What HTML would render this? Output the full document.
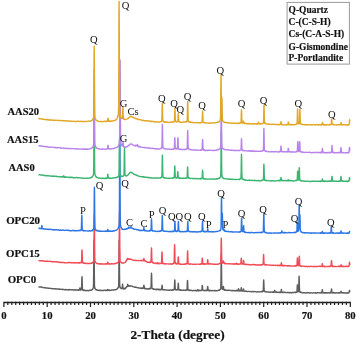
<!DOCTYPE html>
<html><head><meta charset="utf-8"><style>
html,body{margin:0;padding:0;background:#fff;width:357px;height:344px;overflow:hidden}
svg{display:block;will-change:transform}
text{font-family:"Liberation Serif",serif;fill:#111}
.b{stroke:#111;stroke-width:0.18px}
</style></head><body>
<svg width="357" height="344" viewBox="0 0 357 344" font-family="Liberation Serif, serif">
<rect width="357" height="344" fill="#fff"/>
<path d="M38.50,286.82 39.20,286.96 39.90,286.94 40.60,286.97 41.30,286.97 42.00,287.38 42.70,287.41 43.40,287.65 44.10,287.58 44.80,287.85 45.50,287.73 46.20,288.05 46.90,288.10 47.60,288.05 48.30,288.18 49.00,288.32 49.70,288.18 50.40,288.41 51.10,288.59 51.80,288.42 52.50,288.72 53.20,288.73 53.90,288.86 54.60,288.70 55.30,288.65 56.00,289.02 56.70,289.08 57.40,288.98 58.10,288.88 58.80,288.97 59.50,289.22 60.20,289.12 60.90,289.46 61.60,289.34 62.30,289.22 63.00,289.47 63.70,289.38 64.40,289.67 65.10,289.71 65.80,289.57 66.50,289.67 67.20,289.73 67.90,289.81 68.60,289.92 69.30,289.53 70.00,289.71 70.70,289.84 71.40,289.74 72.10,289.89 72.80,289.70 73.50,290.08 74.20,289.95 74.90,289.80 75.60,290.06 76.30,289.93 77.00,289.90 77.60,290.05 77.70,289.90 77.75,289.93 77.90,290.22 78.05,290.15 78.20,289.84 78.35,290.18 78.40,289.84 78.50,289.98 78.65,290.23 78.80,290.10 78.95,289.95 79.10,289.97 79.25,289.96 79.40,289.81 79.55,290.06 79.60,289.54 79.70,289.31 79.75,289.16 79.80,288.67 79.85,288.58 79.90,287.95 80.00,287.98 80.05,288.01 80.15,288.41 80.20,288.85 80.30,289.27 80.35,289.65 80.45,289.89 80.50,289.82 80.60,289.84 80.65,289.95 80.75,289.81 80.80,289.66 80.90,289.93 80.95,289.71 81.05,289.77 81.10,289.89 81.20,289.57 81.25,289.48 81.35,289.45 81.40,289.58 81.50,289.13 81.55,288.71 81.65,287.25 81.70,286.15 81.80,282.22 81.85,280.28 81.90,278.72 81.95,277.38 82.00,276.79 82.10,278.56 82.15,280.34 82.25,284.18 82.30,285.97 82.40,288.20 82.45,289.04 82.60,289.59 82.75,289.92 82.90,290.16 83.05,290.22 83.20,290.05 83.30,290.19 83.35,290.09 83.50,290.18 83.65,290.26 83.80,290.44 83.95,290.54 84.00,290.26 84.10,290.16 84.25,290.39 84.40,290.24 84.70,290.27 85.40,290.66 86.10,290.40 86.80,290.67 87.50,290.50 88.20,290.72 88.90,290.63 89.60,290.21 90.30,290.15 91.00,290.30 91.60,289.91 91.70,289.78 91.75,289.91 91.90,289.83 92.05,289.59 92.20,289.47 92.35,289.18 92.40,289.24 92.50,289.05 92.65,289.10 92.80,288.90 92.95,288.47 93.10,288.41 93.25,287.84 93.40,287.18 93.55,284.65 93.70,273.88 93.80,260.50 93.85,252.87 94.00,240.06 94.15,252.64 94.30,274.04 94.45,284.39 94.50,286.05 94.60,287.52 94.75,288.17 94.90,288.50 95.05,288.57 95.20,288.89 95.35,289.12 95.50,289.00 95.65,289.49 95.80,289.60 95.90,289.47 95.95,289.65 96.10,289.60 96.25,289.61 96.40,289.88 96.60,289.68 97.30,290.22 98.00,290.43 98.70,290.21 99.40,290.54 100.10,290.20 100.80,290.56 101.50,290.32 102.20,290.62 102.90,290.39 103.60,290.60 104.30,290.20 105.00,290.21 105.40,290.52 105.55,290.44 105.70,290.39 105.85,290.17 106.00,290.22 106.15,290.31 106.30,290.16 106.40,290.57 106.45,290.47 106.60,290.54 106.75,290.43 106.90,290.26 107.05,290.14 107.10,290.42 107.20,290.14 107.35,290.29 107.50,290.12 107.65,289.86 107.80,289.51 107.95,289.67 108.10,290.12 108.25,290.04 108.40,290.29 108.50,290.12 108.55,290.18 108.70,290.12 108.85,290.30 109.00,290.22 109.15,290.15 109.20,290.14 109.30,290.29 109.45,290.44 109.60,290.22 109.75,290.10 109.90,290.16 110.05,290.12 110.20,290.26 110.60,290.34 111.30,290.20 112.00,289.99 112.70,289.99 113.40,289.94 114.10,289.87 114.80,289.72 115.50,289.81 116.20,289.37 116.80,289.12 116.90,289.09 116.95,289.02 117.10,288.99 117.25,288.69 117.40,288.69 117.55,288.69 117.60,288.28 117.70,288.38 117.85,288.09 118.00,287.75 118.15,287.51 118.30,287.55 118.45,286.91 118.60,286.51 118.75,283.52 118.90,273.15 119.00,259.69 119.05,252.55 119.20,240.06 119.35,252.37 119.50,273.16 119.65,283.77 119.70,284.88 119.80,286.26 119.95,286.99 120.10,287.36 120.20,287.22 120.25,287.51 120.35,287.41 120.40,287.47 120.50,287.96 120.55,287.61 120.65,288.08 120.70,288.05 120.80,288.10 120.85,288.16 120.95,288.20 121.00,288.07 121.10,288.19 121.15,288.11 121.25,288.45 121.30,288.44 121.40,288.48 121.45,288.25 121.55,288.44 121.60,288.31 121.70,288.57 121.80,288.57 121.85,288.68 122.00,288.54 122.15,288.33 122.30,287.48 122.45,285.38 122.50,285.04 122.60,284.27 122.75,285.55 122.90,287.28 123.05,288.58 123.20,288.42 123.35,288.87 123.50,288.91 123.65,288.71 123.80,288.90 123.90,288.56 123.95,288.60 124.10,288.55 124.25,288.57 124.40,288.53 124.55,288.89 124.60,288.56 124.70,288.77 124.85,288.61 125.00,288.53 125.30,288.48 125.45,288.21 125.60,288.37 125.75,287.89 125.90,287.75 126.00,287.59 126.05,287.54 126.20,287.27 126.35,287.00 126.50,286.79 126.65,287.00 126.70,286.66 126.80,286.69 126.95,286.73 127.10,286.50 127.25,286.47 127.40,285.94 127.55,284.99 127.70,284.30 127.85,284.91 128.00,285.57 128.10,286.02 128.15,285.95 128.30,286.10 128.45,286.15 128.60,286.00 128.75,286.15 128.80,286.18 128.90,285.84 129.05,286.17 129.20,286.14 129.35,286.13 129.50,285.90 129.65,285.86 129.80,285.81 129.95,285.92 130.10,286.14 130.20,285.93 130.90,285.85 131.60,286.12 132.30,286.21 133.00,286.65 133.70,286.93 134.40,287.19 135.10,286.98 135.80,287.25 136.50,287.27 137.20,287.75 137.90,287.85 138.60,287.83 139.30,288.13 140.00,288.03 140.70,288.23 141.40,288.18 141.50,288.13 141.65,288.42 141.80,288.37 141.95,288.27 142.10,288.40 142.25,288.32 142.40,288.39 142.55,288.07 142.70,288.11 142.80,288.10 142.85,288.32 143.00,288.37 143.15,288.11 143.30,288.24 143.45,287.89 143.50,287.99 143.60,287.46 143.75,285.72 143.90,285.25 144.05,286.01 144.20,287.24 144.35,288.09 144.50,288.20 144.65,288.51 144.80,288.64 144.90,288.33 144.95,288.34 145.10,288.57 145.25,288.70 145.40,288.67 145.55,288.57 145.60,288.42 145.70,288.65 145.85,288.60 146.00,288.78 146.15,288.69 146.30,288.78 147.00,288.94 147.70,288.83 148.40,288.97 149.10,288.67 149.25,288.54 149.40,288.91 149.55,288.52 149.70,288.92 149.80,288.66 149.85,288.48 150.00,288.54 150.15,288.70 150.30,288.50 150.45,288.55 150.50,288.30 150.60,288.57 150.75,288.27 150.90,288.28 151.05,287.11 151.20,283.96 151.35,277.21 151.50,273.12 151.65,277.03 151.80,283.95 151.90,286.75 151.95,287.16 152.10,288.19 152.25,288.22 152.40,288.77 152.55,288.85 152.60,288.75 152.70,288.72 152.85,288.61 153.00,288.69 153.15,289.00 153.30,289.09 153.45,289.22 153.60,289.21 153.75,289.06 153.90,289.01 154.00,289.16 154.70,289.20 155.40,289.37 155.50,289.53 155.65,289.36 155.80,289.61 155.95,289.51 156.10,289.23 156.25,289.55 156.40,289.52 156.55,289.52 156.70,289.26 156.80,289.65 156.85,289.48 157.00,289.51 157.15,289.36 157.30,289.31 157.45,289.29 157.50,289.36 157.60,289.34 157.75,289.13 157.90,289.00 158.05,289.40 158.20,289.56 158.35,289.73 158.50,289.47 158.65,289.70 158.80,289.66 158.90,289.44 158.95,289.79 159.10,289.57 159.25,289.50 159.40,289.51 159.55,289.84 159.60,289.53 159.70,289.61 159.85,289.68 160.00,289.60 160.15,289.73 160.30,289.48 160.45,289.63 160.60,289.70 160.75,289.71 160.90,289.70 161.00,289.54 161.05,289.70 161.20,289.83 161.35,289.59 161.50,289.61 161.65,289.45 161.70,288.99 161.80,288.23 161.95,286.62 162.10,285.16 162.25,286.40 162.40,288.31 162.55,289.57 162.70,289.64 162.85,289.86 163.00,289.57 163.10,289.65 163.15,289.82 163.30,289.70 163.45,289.88 163.60,289.83 163.75,289.66 163.80,289.68 163.90,289.84 164.05,289.90 164.20,289.76 164.35,289.81 164.50,289.71 165.20,289.87 165.90,289.93 166.60,289.99 167.30,290.10 168.00,290.23 168.70,290.18 169.40,290.19 170.10,289.99 170.80,290.08 171.50,290.16 172.20,290.20 172.40,289.89 172.55,289.78 172.70,289.78 172.85,289.96 172.90,290.11 173.00,289.78 173.15,290.04 173.30,289.94 173.45,290.01 173.60,289.99 173.75,289.60 173.90,289.84 174.05,289.49 174.20,289.35 174.30,289.20 174.35,288.95 174.50,286.62 174.65,282.48 174.80,279.86 174.95,282.42 175.00,283.91 175.10,286.59 175.25,288.82 175.40,289.42 175.55,289.58 175.70,289.77 175.85,289.77 175.90,289.73 176.00,289.68 176.05,289.82 176.15,289.65 176.20,289.66 176.30,289.64 176.35,289.89 176.40,289.66 176.45,289.71 176.50,289.77 176.60,289.87 176.65,289.91 176.75,289.88 176.80,289.89 176.90,289.71 176.95,290.02 177.05,289.94 177.10,289.80 177.20,289.78 177.25,289.86 177.40,289.63 177.55,289.83 177.70,289.87 177.80,289.46 177.85,289.33 178.00,287.77 178.15,285.19 178.30,283.22 178.45,284.97 178.50,286.15 178.60,287.86 178.75,289.56 178.90,289.72 179.05,289.90 179.20,289.82 179.35,289.99 179.50,289.98 179.65,289.84 179.80,290.22 179.90,289.91 179.95,290.10 180.10,290.17 180.25,290.10 180.40,290.05 180.55,290.12 180.60,290.37 180.70,289.94 181.30,290.37 182.00,290.28 182.70,290.25 183.40,290.33 184.10,290.33 184.80,290.39 185.10,290.44 185.25,290.23 185.40,290.15 185.50,290.14 185.55,290.38 185.70,290.17 185.85,289.97 186.00,290.18 186.15,289.94 186.20,290.04 186.30,290.15 186.45,290.09 186.60,290.01 186.75,290.08 186.90,289.86 187.05,289.48 187.20,287.30 187.35,282.89 187.50,280.59 187.60,281.63 187.65,283.20 187.80,287.24 187.95,289.27 188.10,289.71 188.25,290.14 188.30,289.95 188.40,289.85 188.55,290.25 188.70,289.95 188.85,290.01 189.00,290.04 189.15,290.35 189.30,290.34 189.45,290.33 189.60,290.55 189.70,290.36 189.75,290.26 189.90,290.62 190.40,290.29 191.10,290.32 191.80,290.43 192.50,290.79 193.20,290.57 193.90,290.56 194.60,290.57 195.30,290.56 195.40,290.73 195.55,290.68 195.70,290.52 195.85,290.48 196.00,290.75 196.15,290.63 196.30,290.61 196.45,290.47 196.60,290.81 196.70,290.60 196.75,290.77 196.90,290.66 197.05,290.64 197.20,290.35 197.35,290.68 197.40,290.60 197.50,290.08 197.65,289.62 197.80,289.60 197.95,289.88 198.10,290.12 198.25,290.70 198.40,290.37 198.55,290.59 198.70,290.55 198.80,290.49 198.85,290.64 199.00,290.54 199.15,290.68 199.30,290.68 199.45,290.34 199.50,290.48 199.60,290.58 199.75,290.46 199.90,290.59 200.05,290.33 200.20,290.36 200.35,290.53 200.50,290.39 200.65,290.37 200.80,290.45 200.90,290.52 200.95,290.54 201.10,290.49 201.25,290.43 201.40,290.37 201.55,290.53 201.60,290.51 201.70,290.47 201.85,290.20 202.00,288.97 202.15,286.55 202.30,285.43 202.45,286.59 202.60,288.80 202.75,289.96 202.90,290.09 203.00,290.32 203.05,290.22 203.20,290.27 203.35,290.39 203.50,290.55 203.65,290.52 203.70,290.38 203.80,290.57 203.95,290.44 204.10,290.43 204.25,290.46 204.40,290.42 204.55,290.37 204.70,290.73 205.10,290.57 205.30,290.59 205.45,290.57 205.60,290.52 205.75,290.57 205.80,290.30 205.90,290.32 206.05,290.52 206.20,290.48 206.35,290.27 206.50,290.34 206.65,290.36 206.80,290.63 206.95,290.55 207.10,290.15 207.20,290.19 207.25,290.05 207.40,289.05 207.55,287.33 207.70,286.55 207.85,287.61 207.90,287.96 208.00,289.34 208.15,289.96 208.30,290.41 208.45,290.23 208.60,290.50 208.75,290.50 208.90,290.70 209.05,290.53 209.20,290.69 209.30,290.40 209.35,290.58 209.50,290.40 209.65,290.35 209.80,290.76 209.95,290.35 210.00,290.49 210.10,290.48 210.70,290.45 211.40,290.75 212.10,290.70 212.80,290.55 213.50,290.64 214.20,290.78 214.90,290.45 215.60,290.72 216.30,290.80 217.00,290.66 217.70,290.55 218.40,290.29 218.90,290.09 219.05,290.03 219.10,290.09 219.20,290.01 219.35,290.15 219.50,289.78 219.65,289.67 219.80,289.85 219.95,289.57 220.10,289.27 220.25,289.41 220.40,288.86 220.50,288.85 220.55,288.77 220.70,288.34 220.85,286.25 221.00,279.02 221.15,264.01 221.20,259.23 221.30,254.98 221.45,263.88 221.60,278.77 221.75,286.28 221.90,288.04 222.05,288.75 222.20,288.62 222.35,289.15 222.50,289.05 222.60,289.16 222.65,289.01 222.80,289.25 222.95,289.09 223.10,288.64 223.25,287.47 223.30,286.83 223.40,286.48 223.55,287.67 223.70,288.68 223.85,289.58 224.00,289.80 224.15,289.90 224.30,289.61 224.45,289.93 224.60,290.05 224.70,289.72 224.75,289.72 224.90,290.14 225.05,290.08 225.20,290.12 225.35,290.17 225.40,290.11 225.50,289.94 225.65,289.94 225.80,289.90 226.10,290.22 226.80,290.29 227.50,290.48 228.20,290.20 228.90,290.19 229.60,290.33 230.30,290.62 231.00,290.34 231.70,290.66 232.40,290.58 233.10,290.67 233.80,290.41 234.50,290.74 235.20,290.59 235.90,290.76 236.10,290.46 236.25,290.57 236.40,290.69 236.55,290.57 236.60,290.68 236.70,290.49 236.85,290.56 237.00,290.73 237.15,290.59 237.30,290.88 237.45,290.61 237.60,290.58 237.75,290.61 237.90,290.69 238.00,290.50 238.05,290.73 238.20,289.93 238.35,289.20 238.50,288.78 238.65,289.07 238.70,289.38 238.80,290.09 238.90,290.61 238.95,290.71 239.05,290.81 239.10,290.77 239.20,290.52 239.25,290.89 239.35,290.57 239.40,290.51 239.50,290.74 239.55,290.53 239.65,290.55 239.70,290.61 239.80,290.97 239.85,290.66 239.95,290.92 240.00,290.96 240.10,290.64 240.15,290.59 240.25,290.64 240.30,290.83 240.40,290.85 240.45,290.68 240.55,290.88 240.60,290.56 240.70,290.52 240.75,290.64 240.80,290.72 240.85,290.72 240.90,290.62 241.00,290.09 241.10,289.27 241.15,288.65 241.25,287.88 241.30,287.61 241.40,288.23 241.45,288.80 241.50,289.22 241.55,289.54 241.60,290.01 241.70,290.59 241.75,290.84 241.85,290.86 241.90,290.84 242.00,291.04 242.05,291.06 242.15,290.65 242.20,291.08 242.30,290.80 242.35,290.68 242.45,290.82 242.50,290.75 242.60,290.70 242.65,291.06 242.75,290.87 242.80,290.76 242.90,291.02 242.95,290.78 243.05,290.76 243.10,290.69 243.20,290.32 243.25,290.24 243.35,289.39 243.40,289.39 243.50,288.99 243.55,289.05 243.60,289.20 243.65,289.75 243.70,289.77 243.80,290.43 243.95,290.82 244.10,290.89 244.25,290.89 244.30,291.19 244.40,291.26 244.55,291.07 244.70,291.15 244.85,291.33 245.00,291.02 245.15,291.13 245.30,291.35 245.45,291.15 245.60,291.17 245.70,291.30 245.75,291.19 245.90,291.16 246.40,291.16 247.10,291.62 247.80,291.59 248.50,291.38 249.20,291.36 249.90,291.57 250.60,291.60 251.30,291.80 252.00,291.58 252.70,291.49 253.40,291.83 254.10,291.54 254.80,291.60 255.50,291.60 256.20,291.90 256.90,291.96 257.60,291.71 258.30,291.83 259.00,291.86 259.70,291.74 260.40,291.88 261.10,291.63 261.30,291.79 261.45,291.53 261.60,291.50 261.75,291.49 261.80,291.49 261.90,291.82 262.05,291.48 262.20,291.63 262.35,291.31 262.50,291.64 262.65,291.54 262.80,291.45 262.95,291.51 263.10,290.94 263.20,290.95 263.25,290.34 263.40,288.21 263.55,282.87 263.70,280.00 263.85,283.11 263.90,284.83 264.00,288.15 264.15,290.33 264.30,291.35 264.45,291.12 264.60,291.61 264.75,291.60 264.90,291.32 265.05,291.39 265.20,291.45 265.30,291.47 265.35,291.51 265.50,291.57 265.65,291.73 265.80,291.74 265.95,291.66 266.00,291.99 266.10,291.83 266.70,291.87 267.40,292.06 268.10,292.01 268.80,292.16 269.50,292.17 270.20,291.98 270.90,292.23 271.60,292.14 272.20,291.89 272.30,292.02 272.35,292.18 272.50,292.19 272.65,292.19 272.80,292.22 272.95,292.20 273.00,292.28 273.10,292.00 273.25,292.28 273.40,292.27 273.55,292.24 273.70,291.98 273.85,292.14 274.00,292.23 274.15,292.15 274.30,291.55 274.40,291.07 274.45,291.07 274.60,290.48 274.75,291.07 274.90,291.53 275.05,291.86 275.10,292.23 275.20,292.16 275.35,291.94 275.50,292.16 275.65,292.07 275.80,292.15 275.95,292.29 276.10,292.36 276.25,291.99 276.40,291.99 276.50,292.39 276.55,292.05 276.70,292.36 276.85,292.28 277.00,292.27 277.20,292.30 277.90,292.22 278.60,292.42 279.00,292.48 279.15,292.18 279.30,292.16 279.45,292.24 279.60,292.22 279.75,292.29 279.90,292.46 280.00,292.19 280.05,292.45 280.20,292.16 280.35,292.19 280.50,292.35 280.65,292.31 280.70,292.40 280.80,292.25 280.95,291.96 281.10,291.62 281.25,290.25 281.40,289.46 281.55,290.29 281.70,291.71 281.85,291.86 282.00,292.39 282.10,292.34 282.15,292.34 282.30,292.34 282.45,292.17 282.60,292.31 282.75,292.55 282.80,292.49 282.90,292.31 283.05,292.33 283.20,292.34 283.35,292.32 283.50,292.33 283.65,292.27 283.80,292.59 284.20,292.21 284.90,292.29 285.60,292.51 286.30,292.63 287.00,292.58 287.70,292.35 288.40,292.52 289.10,292.75 289.80,292.71 290.50,292.44 291.20,292.77 291.90,292.78 292.60,292.41 293.30,292.71 294.00,292.40 294.70,292.29 295.00,292.42 295.15,292.66 295.30,292.53 295.40,292.28 295.45,292.56 295.60,292.30 295.75,292.48 295.90,292.35 296.05,292.36 296.10,292.28 296.20,292.32 296.35,292.25 296.50,292.34 296.65,292.08 296.70,292.21 296.80,291.97 296.85,291.71 296.95,291.59 297.00,291.37 297.10,289.93 297.15,289.01 297.25,286.93 297.30,285.79 297.40,284.85 297.45,285.20 297.50,285.67 297.55,286.78 297.60,287.85 297.70,289.80 297.75,290.48 297.85,291.33 297.90,291.62 298.00,291.81 298.05,291.63 298.15,291.74 298.20,291.56 298.30,291.49 298.35,291.58 298.45,291.41 298.50,291.34 298.60,291.08 298.65,290.59 298.75,288.60 298.80,287.23 298.90,283.09 298.95,280.37 299.05,277.01 299.10,276.33 299.20,278.49 299.25,280.71 299.35,285.47 299.40,287.43 299.50,289.86 299.55,290.85 299.60,290.99 299.65,291.57 299.70,291.67 299.80,291.98 299.85,291.77 300.00,292.12 300.15,292.03 300.30,291.94 300.45,292.38 300.60,292.10 300.75,292.37 300.90,292.43 301.00,292.46 301.05,292.46 301.20,292.63 301.35,292.55 301.50,292.30 301.70,292.56 302.40,292.83 303.10,292.83 303.80,292.71 304.50,292.79 305.20,292.91 305.90,292.94 306.60,292.63 307.30,292.74 308.00,292.80 308.70,292.64 309.40,292.93 310.10,292.92 310.80,292.77 311.50,292.91 312.20,293.08 312.90,292.86 313.60,292.74 314.30,292.85 315.00,292.95 315.70,292.73 316.40,292.94 317.10,292.92 317.80,292.65 318.50,292.86 319.20,292.64 319.90,292.86 320.05,292.71 320.20,292.65 320.35,292.78 320.50,292.87 320.60,292.60 320.65,292.92 320.80,292.74 320.95,292.81 321.10,292.79 321.25,292.75 321.30,292.57 321.40,292.54 321.55,292.62 321.70,292.89 321.85,292.55 322.00,291.64 322.15,290.54 322.30,289.69 322.45,290.38 322.60,291.91 322.70,292.54 322.75,292.71 322.90,292.69 323.05,292.88 323.20,292.91 323.35,292.66 323.40,292.76 323.50,292.63 323.65,292.90 323.80,292.97 323.95,292.89 324.10,292.73 324.25,292.93 324.40,292.77 324.55,292.68 324.70,292.80 324.80,292.72 325.50,293.04 326.20,292.64 326.90,293.00 327.60,292.81 328.30,292.63 329.00,292.97 329.10,292.76 329.25,292.65 329.40,292.88 329.55,292.79 329.70,292.77 329.85,292.71 330.00,292.63 330.15,292.93 330.30,292.57 330.40,292.55 330.45,292.72 330.60,292.79 330.75,292.62 330.90,292.83 331.05,292.59 331.10,292.29 331.20,291.80 331.35,290.24 331.50,288.95 331.65,289.94 331.80,291.82 331.95,292.36 332.10,292.83 332.25,292.80 332.40,292.78 332.50,292.80 332.55,292.82 332.70,292.90 332.85,292.82 333.00,292.61 333.15,292.59 333.20,292.63 333.30,292.91 333.45,292.65 333.60,292.60 333.75,292.73 333.90,292.72 334.60,292.98 335.30,292.97 336.00,292.64 336.70,292.81 337.40,292.91 338.10,292.77 338.60,293.06 338.75,293.00 338.80,292.66 338.90,292.76 339.05,293.04 339.20,293.06 339.35,292.69 339.50,292.71 339.65,292.93 339.80,292.79 339.95,292.69 340.10,292.89 340.20,292.88 340.25,292.60 340.40,292.76 340.55,292.72 340.70,292.30 340.85,291.66 340.90,291.74 341.00,291.19 341.15,291.57 341.30,292.37 341.45,292.51 341.60,292.64 341.75,292.76 341.90,292.82 342.05,293.00 342.20,292.71 342.30,292.70 342.35,292.86 342.50,292.81 342.65,292.67 342.80,292.67 342.95,292.93 343.00,292.93 343.10,292.73 343.25,292.71 343.40,292.69 343.70,292.81 344.40,293.03 345.10,292.96 345.80,293.01 346.50,292.97 347.10,292.82 347.20,292.63 347.25,292.67 347.40,292.64 347.55,293.02 347.70,292.79 347.85,292.96 347.90,292.74 348.00,292.66 348.15,292.86 348.30,292.65 348.45,292.95 348.60,292.77 348.75,292.70 348.90,292.65 349.05,292.66 349.20,291.95 349.30,291.24 349.35,291.11 349.50,290.34 349.65,290.77 349.80,292.16" fill="none" stroke="#5E5E5E" stroke-width="1.45" stroke-linejoin="round"/>
<path d="M38.50,260.45 39.20,260.59 39.90,260.69 40.60,260.84 41.30,260.83 42.00,260.99 42.70,260.67 43.40,260.93 44.10,261.21 44.80,261.15 45.50,261.33 46.20,261.04 46.90,261.25 47.60,261.21 48.30,261.39 49.00,261.45 49.70,261.26 50.40,261.39 51.10,261.46 51.80,261.79 52.50,261.77 53.20,261.55 53.90,261.87 54.60,261.63 55.30,261.89 56.00,261.72 56.70,261.72 57.40,262.17 58.10,261.94 58.80,262.01 59.50,262.41 60.20,262.43 60.90,262.24 61.60,262.60 62.30,262.47 63.00,262.59 63.70,262.43 64.40,262.80 65.10,262.73 65.80,262.88 66.50,262.87 67.20,262.62 67.90,262.66 68.60,262.59 69.30,262.59 70.00,262.57 70.70,262.68 71.40,262.82 72.10,262.56 72.80,262.86 73.50,262.72 74.20,262.72 74.90,262.95 75.60,262.81 76.30,262.75 77.00,262.83 77.70,262.95 78.40,262.67 79.10,263.08 79.60,262.64 79.75,262.95 79.80,262.99 79.90,262.62 80.05,262.94 80.20,262.74 80.35,262.81 80.50,262.54 80.65,262.52 80.80,262.55 80.95,262.84 81.10,262.45 81.20,262.65 81.25,262.70 81.40,262.55 81.55,261.58 81.70,258.83 81.85,253.47 81.90,251.87 82.00,249.97 82.15,253.59 82.30,259.07 82.45,261.88 82.60,262.24 82.75,262.82 82.90,262.54 83.05,262.73 83.20,262.92 83.30,263.09 83.35,262.86 83.50,263.17 83.65,263.05 83.80,262.99 83.95,263.03 84.00,262.98 84.10,262.96 84.25,263.02 84.40,263.29 84.70,263.47 85.40,263.19 86.10,263.20 86.80,263.65 87.50,263.48 88.20,263.43 88.90,263.36 89.60,263.49 90.30,263.54 91.00,263.28 91.70,263.07 91.90,262.83 92.05,263.14 92.20,262.68 92.35,262.79 92.40,262.91 92.50,262.53 92.65,262.68 92.80,262.64 92.95,262.35 93.10,262.24 93.25,261.74 93.40,261.63 93.55,261.19 93.70,260.86 93.80,259.33 93.85,258.03 94.00,247.95 94.15,227.52 94.30,215.18 94.45,227.36 94.50,234.63 94.60,247.85 94.75,258.07 94.90,260.66 95.05,261.35 95.20,261.57 95.35,261.93 95.50,262.42 95.65,262.60 95.80,262.61 95.90,262.65 95.95,262.63 96.10,262.64 96.25,262.84 96.40,263.16 96.55,263.29 96.60,263.09 96.70,263.33 97.30,263.57 98.00,263.71 98.70,263.82 99.40,263.94 100.10,263.81 100.80,264.00 101.50,263.84 102.20,263.94 102.90,264.08 103.60,264.05 104.30,263.88 105.00,264.17 105.40,264.03 105.55,264.00 105.70,263.75 105.85,263.98 106.00,263.84 106.15,264.02 106.30,263.93 106.40,264.08 106.45,264.00 106.60,264.06 106.75,263.85 106.90,263.97 107.05,264.00 107.10,264.04 107.20,263.80 107.35,263.91 107.50,263.50 107.65,262.59 107.80,262.21 107.95,262.71 108.10,263.35 108.25,263.77 108.40,263.72 108.50,264.03 108.55,264.08 108.70,263.89 108.85,264.00 109.00,264.02 109.15,264.03 109.20,263.78 109.30,264.06 109.45,263.97 109.60,264.01 109.75,263.91 109.90,264.00 110.05,264.07 110.20,264.01 110.60,264.05 111.30,263.73 112.00,263.78 112.70,263.88 113.40,263.93 114.10,263.68 114.80,263.80 115.50,263.66 116.20,263.23 116.90,263.15 117.10,262.94 117.25,262.77 117.40,262.71 117.55,262.68 117.60,262.59 117.70,262.51 117.85,262.30 118.00,262.34 118.15,262.12 118.30,262.03 118.45,261.78 118.60,261.35 118.75,261.29 118.90,260.21 119.00,259.01 119.05,257.50 119.20,246.62 119.35,224.94 119.50,212.12 119.65,225.03 119.70,232.56 119.80,246.68 119.95,257.37 120.10,260.38 120.25,260.95 120.40,261.40 120.55,261.83 120.70,261.98 120.85,261.99 121.00,262.32 121.10,262.34 121.15,262.26 121.30,262.28 121.45,262.59 121.60,262.66 121.75,262.91 121.80,262.94 121.90,262.83 122.50,262.90 123.20,263.23 123.90,262.83 124.60,262.62 125.00,262.48 125.15,262.36 125.30,262.00 125.45,262.07 125.60,262.02 125.75,261.60 125.90,261.39 126.00,261.13 126.05,261.07 126.20,261.10 126.35,260.57 126.50,260.58 126.65,260.33 126.70,260.12 126.80,259.84 126.95,259.96 127.10,259.41 127.25,258.81 127.40,258.39 127.55,258.90 127.70,259.09 127.85,259.18 128.00,259.26 128.10,259.07 128.15,259.28 128.30,259.15 128.45,259.04 128.60,259.22 128.75,259.20 128.80,258.83 128.90,259.04 129.05,258.91 129.20,259.18 129.35,259.11 129.50,258.87 129.65,258.89 129.80,258.86 130.20,259.30 130.90,259.22 131.60,259.63 132.30,259.84 133.00,260.10 133.70,260.21 134.40,260.39 135.10,260.23 135.80,260.61 136.50,260.48 137.20,260.64 137.90,260.57 138.60,260.54 139.30,260.61 140.00,260.55 140.70,260.47 141.40,260.63 141.50,260.56 141.65,260.32 141.80,260.41 141.95,260.51 142.10,260.71 142.25,260.70 142.40,260.56 142.55,260.33 142.70,260.67 142.80,260.52 142.85,260.58 143.00,260.64 143.15,260.61 143.30,260.53 143.45,260.63 143.50,260.30 143.60,259.97 143.75,259.31 143.90,258.50 144.05,259.10 144.20,260.24 144.35,260.37 144.50,260.85 144.65,260.84 144.80,260.76 144.90,260.72 144.95,260.95 145.10,261.05 145.25,260.77 145.40,260.99 145.55,261.11 145.60,261.11 145.70,261.11 145.85,261.13 146.00,261.43 146.15,261.63 146.30,261.41 147.00,261.83 147.70,262.26 148.40,262.37 149.10,262.38 149.25,262.11 149.40,262.42 149.55,262.54 149.70,262.54 149.80,262.40 149.85,262.11 150.00,262.45 150.15,262.15 150.30,262.31 150.45,262.40 150.50,262.28 150.60,261.99 150.75,261.98 150.90,262.09 151.05,260.97 151.20,258.07 151.35,251.85 151.50,248.01 151.65,251.98 151.80,257.90 151.90,260.39 151.95,261.19 152.10,261.88 152.25,262.09 152.40,262.43 152.55,262.60 152.60,262.69 152.70,262.41 152.85,262.62 153.00,262.63 153.15,262.81 153.30,262.81 153.45,263.06 153.60,262.86 153.75,262.75 153.90,263.07 154.00,262.86 154.70,263.20 154.80,263.16 154.95,263.36 155.10,263.23 155.25,263.28 155.40,263.14 155.55,263.28 155.70,263.17 155.85,263.40 156.00,263.32 156.10,263.16 156.15,263.20 156.30,263.28 156.45,263.45 156.60,263.21 156.75,263.43 156.80,263.38 156.90,263.04 157.05,263.06 157.20,262.67 157.35,262.84 157.50,263.31 157.65,263.29 157.80,263.61 157.95,263.45 158.10,263.39 158.20,263.61 158.25,263.27 158.40,263.59 158.55,263.30 158.70,263.35 158.85,263.71 158.90,263.59 159.00,263.39 159.15,263.34 159.30,263.72 159.45,263.58 159.60,263.65 159.75,263.34 159.90,263.55 160.05,263.41 160.20,263.35 160.30,263.38 160.35,263.49 160.50,263.35 160.65,263.34 160.80,263.20 160.95,263.46 161.00,263.36 161.10,263.40 161.25,263.16 161.40,263.20 161.55,262.41 161.70,259.91 161.85,254.91 162.00,251.95 162.15,254.85 162.30,259.73 162.40,261.70 162.45,262.32 162.60,262.91 162.75,263.45 162.90,263.36 163.05,263.55 163.10,263.24 163.20,263.48 163.35,263.72 163.50,263.65 163.65,263.60 163.80,263.66 163.95,263.53 164.10,263.58 164.25,263.61 164.40,263.73 164.50,263.75 165.20,264.05 165.90,263.78 166.60,263.86 167.30,263.90 168.00,263.87 168.70,263.94 169.40,263.92 170.10,264.02 170.80,263.80 171.50,264.15 172.20,263.81 172.35,264.04 172.50,263.90 172.65,263.85 172.80,263.72 172.90,263.90 172.95,263.52 173.10,263.71 173.25,263.48 173.40,263.58 173.55,263.52 173.60,263.24 173.70,263.19 173.85,262.98 174.00,262.82 174.15,261.70 174.30,257.75 174.45,249.93 174.60,244.74 174.75,249.63 174.90,257.77 175.00,260.90 175.05,261.98 175.20,263.03 175.35,263.03 175.50,263.19 175.65,263.47 175.70,263.62 175.80,263.54 175.90,263.49 175.95,263.75 176.05,263.36 176.10,263.40 176.20,263.75 176.25,263.60 176.35,263.46 176.40,263.70 176.50,263.91 176.55,263.71 176.65,263.65 176.70,263.55 176.80,263.55 176.85,263.92 176.95,263.74 177.00,263.94 177.10,263.55 177.25,263.63 177.40,263.53 177.55,263.66 177.70,263.44 177.80,263.35 177.85,263.23 178.00,261.71 178.15,258.67 178.30,256.89 178.45,259.10 178.50,259.80 178.60,261.85 178.75,263.30 178.90,263.75 179.05,263.66 179.20,263.81 179.35,263.76 179.50,263.99 179.65,264.19 179.80,264.08 179.90,264.21 179.95,263.93 180.10,263.87 180.25,264.12 180.40,264.11 180.55,264.17 180.60,264.08 180.70,264.20 181.30,264.29 182.00,264.40 182.70,264.14 183.40,264.20 184.10,264.34 184.80,264.03 185.20,263.94 185.35,264.01 185.50,263.89 185.65,264.17 185.80,264.16 185.95,263.90 186.10,263.79 186.20,263.74 186.25,263.80 186.40,263.68 186.55,263.77 186.70,263.77 186.85,263.53 186.90,263.41 187.00,263.56 187.15,262.54 187.30,259.79 187.45,254.25 187.60,250.90 187.75,254.17 187.90,259.89 188.05,262.66 188.20,263.59 188.30,263.63 188.35,263.82 188.50,263.81 188.65,263.92 188.80,263.90 188.95,263.89 189.00,264.07 189.10,264.03 189.25,264.20 189.40,264.14 189.55,264.15 189.70,263.99 189.85,264.25 190.00,264.08 190.40,264.02 191.10,264.04 191.80,264.12 192.50,264.19 193.20,264.38 193.90,264.22 194.60,264.13 195.30,264.44 196.00,264.35 196.70,264.11 197.40,264.11 198.10,264.12 198.80,264.20 199.50,264.38 199.90,264.39 200.05,264.23 200.20,264.05 200.35,264.12 200.50,264.08 200.65,264.04 200.80,263.88 200.90,264.12 200.95,264.22 201.10,264.15 201.25,263.84 201.40,264.00 201.55,263.79 201.60,264.01 201.70,263.83 201.85,263.72 202.00,262.39 202.15,259.60 202.30,258.17 202.45,259.94 202.60,262.22 202.75,263.47 202.90,263.79 203.00,263.99 203.05,264.08 203.20,263.94 203.35,264.16 203.50,264.01 203.65,263.81 203.70,264.13 203.80,263.96 203.95,263.81 204.10,264.23 204.25,263.82 204.40,264.06 204.55,264.02 204.70,264.20 205.10,263.98 205.30,263.90 205.45,263.92 205.60,263.88 205.75,264.03 205.80,263.94 205.90,264.11 206.05,263.87 206.20,263.91 206.35,263.85 206.50,264.16 206.65,264.07 206.80,264.05 206.95,263.92 207.10,263.77 207.20,263.54 207.25,263.73 207.40,262.68 207.55,260.71 207.70,259.69 207.85,260.73 207.90,261.63 208.00,262.85 208.15,263.44 208.30,263.93 208.45,263.77 208.60,263.96 208.75,264.06 208.90,263.97 209.05,264.06 209.20,263.88 209.30,263.73 209.35,263.95 209.50,264.00 209.65,263.83 209.80,263.92 209.95,263.90 210.00,263.77 210.10,263.90 210.70,263.94 211.40,263.99 212.10,264.10 212.80,263.98 213.50,264.26 214.20,264.22 214.90,264.31 215.60,264.24 216.30,264.25 217.00,264.19 217.70,264.26 218.40,263.97 218.90,263.94 219.05,263.93 219.10,263.84 219.20,263.70 219.35,263.55 219.50,263.48 219.65,263.52 219.80,263.53 219.95,263.51 220.10,263.38 220.25,263.06 220.40,263.18 220.50,262.77 220.55,262.90 220.70,262.26 220.85,261.13 221.00,255.63 221.15,244.99 221.20,241.59 221.30,238.31 221.45,244.89 221.60,255.56 221.75,260.92 221.90,262.13 222.05,262.57 222.20,262.88 222.35,262.70 222.50,263.10 222.60,262.96 222.65,262.91 222.80,262.77 222.95,262.86 223.10,262.27 223.25,261.45 223.30,261.23 223.40,260.94 223.55,261.50 223.70,262.50 223.85,262.94 224.00,263.36 224.15,263.35 224.30,263.46 224.45,263.34 224.60,263.59 224.70,263.31 224.75,263.36 224.90,263.37 225.05,263.55 225.20,263.69 225.35,263.39 225.40,263.60 225.50,263.67 225.65,263.45 225.80,263.39 226.10,263.64 226.80,263.81 227.50,263.87 228.20,263.84 228.90,263.74 229.60,263.78 230.30,263.86 231.00,264.05 231.70,263.82 232.40,263.84 233.10,264.01 233.80,264.19 234.10,263.86 234.25,263.79 234.40,263.84 234.50,264.03 234.55,264.05 234.70,263.87 234.85,263.88 235.00,264.06 235.15,264.08 235.20,264.10 235.30,264.12 235.45,263.83 235.60,264.01 235.75,264.16 235.90,264.21 236.05,263.89 236.20,263.95 236.35,263.50 236.50,263.42 236.60,263.22 236.65,263.53 236.80,263.96 236.95,263.98 237.10,263.86 237.25,263.92 237.30,263.90 237.40,263.88 237.55,263.91 237.70,264.12 237.85,263.90 238.00,264.19 238.15,264.19 238.30,264.22 238.45,264.22 238.60,264.18 238.70,264.27 238.75,264.29 238.90,264.14 239.05,264.28 239.20,263.90 239.35,263.89 239.40,263.87 239.50,263.93 239.65,263.99 239.80,264.02 239.95,264.10 240.10,264.11 240.25,263.80 240.40,263.91 240.55,263.93 240.70,263.78 240.80,263.50 240.85,263.53 241.00,262.10 241.15,259.59 241.20,258.68 241.30,258.11 241.35,258.31 241.45,259.33 241.50,260.57 241.60,262.25 241.65,262.68 241.75,263.32 241.80,263.66 241.90,263.77 241.95,263.98 242.05,264.10 242.10,263.88 242.20,263.86 242.25,263.96 242.35,264.06 242.40,264.11 242.50,264.03 242.55,263.91 242.65,263.94 242.70,264.16 242.80,264.02 242.85,263.81 242.90,263.97 242.95,263.88 243.00,264.06 243.10,263.70 243.15,263.69 243.25,263.17 243.30,262.97 243.40,262.14 243.45,261.37 243.55,260.44 243.60,260.56 243.70,260.68 243.75,261.32 243.90,263.18 244.05,263.67 244.20,264.24 244.30,264.10 244.35,263.97 244.50,264.11 244.65,264.23 244.80,264.23 244.95,264.31 245.00,264.12 245.10,264.20 245.25,264.56 245.40,264.34 245.55,264.37 245.70,264.22 245.85,264.32 246.00,264.63 246.40,264.55 247.10,264.52 247.80,264.36 248.50,264.55 249.20,264.75 249.90,264.62 250.60,264.72 251.30,264.88 252.00,264.79 252.70,264.80 253.40,264.56 254.10,264.57 254.80,264.91 255.50,264.77 256.20,264.99 256.90,264.98 257.60,265.03 258.30,264.80 259.00,265.07 259.70,264.96 260.40,265.01 261.10,264.64 261.20,264.91 261.35,264.74 261.50,264.97 261.65,264.97 261.80,264.60 261.95,264.67 262.10,264.58 262.25,264.64 262.40,264.52 262.50,264.66 262.55,264.41 262.70,264.38 262.85,264.44 263.00,264.14 263.15,263.72 263.20,263.49 263.30,261.79 263.45,257.24 263.60,254.58 263.75,257.53 263.90,261.84 264.05,263.84 264.20,264.20 264.35,264.38 264.50,264.75 264.60,264.80 264.65,264.42 264.80,264.53 264.95,264.68 265.10,264.65 265.25,264.90 265.30,264.74 265.40,264.93 265.55,264.69 265.70,264.87 265.85,265.09 266.00,264.99 266.70,264.80 267.40,264.86 268.10,265.13 268.80,265.05 269.50,265.08 270.20,265.15 270.90,265.23 271.60,265.42 272.30,265.13 273.00,265.30 273.70,265.20 274.40,265.35 275.10,265.46 275.80,265.23 276.50,265.41 277.20,265.53 277.90,265.25 278.60,265.60 279.00,265.46 279.15,265.50 279.30,265.54 279.45,265.62 279.60,265.30 279.75,265.49 279.90,265.29 280.00,265.44 280.05,265.42 280.20,265.27 280.35,265.39 280.50,265.45 280.65,265.52 280.70,265.63 280.80,265.36 280.95,265.27 281.10,264.71 281.25,263.54 281.40,262.78 281.55,263.58 281.70,264.56 281.85,265.15 282.00,265.66 282.10,265.32 282.15,265.49 282.30,265.64 282.45,265.58 282.60,265.53 282.75,265.79 282.80,265.52 282.90,265.64 283.05,265.77 283.20,265.48 283.35,265.59 283.50,265.66 283.65,265.71 283.80,265.56 284.20,265.69 284.90,265.55 285.60,265.59 286.30,265.73 287.00,265.67 287.70,266.06 288.40,265.78 289.10,265.81 289.80,266.05 290.50,266.05 291.20,265.86 291.90,266.13 292.60,266.05 293.30,265.95 294.00,266.05 294.70,265.87 295.00,265.86 295.15,266.12 295.30,265.91 295.40,266.10 295.45,265.78 295.60,265.75 295.75,265.69 295.90,265.97 296.05,265.86 296.10,265.61 296.20,265.60 296.35,265.91 296.50,265.72 296.65,265.83 296.80,265.35 296.90,265.38 296.95,264.95 297.05,264.31 297.10,263.50 297.20,261.39 297.25,260.05 297.35,258.63 297.40,258.00 297.50,258.93 297.55,260.23 297.65,262.24 297.70,263.20 297.80,264.65 297.85,265.09 297.95,265.53 298.00,265.52 298.10,265.29 298.15,265.55 298.20,265.65 298.25,265.33 298.30,265.61 298.40,265.39 298.45,265.41 298.55,265.26 298.60,265.57 298.70,265.39 298.75,265.48 298.85,264.88 298.90,264.32 299.00,262.77 299.05,261.61 299.15,259.12 299.20,257.55 299.30,256.33 299.35,256.77 299.45,258.78 299.50,260.37 299.60,263.04 299.65,263.98 299.75,264.88 299.80,265.14 299.90,265.56 300.05,265.79 300.20,265.76 300.30,265.86 300.35,266.03 300.50,265.74 300.65,265.84 300.80,265.98 300.95,266.04 301.00,266.21 301.10,266.08 301.25,266.16 301.40,266.08 301.55,266.26 301.70,266.31 302.40,266.15 303.10,266.12 303.80,266.23 304.50,266.31 305.20,266.57 305.90,266.31 306.60,266.49 307.30,266.51 308.00,266.66 308.70,266.30 309.40,266.59 310.10,266.40 310.80,266.30 311.50,266.53 312.20,266.63 312.90,266.51 313.60,266.28 314.30,266.69 315.00,266.43 315.70,266.54 316.40,266.57 317.10,266.37 317.80,266.43 318.50,266.39 319.20,266.27 319.90,266.25 320.05,266.53 320.20,266.39 320.35,266.59 320.50,266.22 320.60,266.32 320.65,266.27 320.80,266.60 320.95,266.52 321.10,266.56 321.25,266.37 321.30,266.19 321.40,266.32 321.55,266.21 321.70,266.09 321.85,266.17 322.00,265.46 322.15,264.22 322.30,263.69 322.45,264.58 322.60,265.75 322.70,266.00 322.75,265.97 322.90,266.41 323.05,266.16 323.20,266.37 323.35,266.18 323.40,266.58 323.50,266.40 323.65,266.36 323.80,266.30 323.95,266.43 324.10,266.62 324.25,266.38 324.40,266.29 324.55,266.43 324.70,266.61 324.80,266.38 325.50,266.50 326.20,266.63 326.90,266.36 327.60,266.57 328.30,266.43 329.00,266.23 329.10,266.19 329.25,266.57 329.40,266.35 329.55,266.33 329.70,266.52 329.85,266.36 330.00,266.31 330.15,266.19 330.30,266.37 330.40,266.14 330.45,266.23 330.60,266.32 330.75,266.22 330.90,265.93 331.05,265.63 331.10,265.58 331.20,264.60 331.35,261.83 331.50,260.71 331.65,261.84 331.80,264.35 331.95,265.58 332.10,266.07 332.25,266.22 332.40,266.37 332.50,266.08 332.55,266.33 332.70,266.09 332.85,266.33 333.00,266.20 333.15,266.26 333.20,266.13 333.30,266.44 333.45,266.19 333.60,266.48 333.75,266.30 333.90,266.43 334.60,266.48 335.30,266.43 336.00,266.61 336.70,266.64 337.40,266.36 338.10,266.38 338.60,266.61 338.75,266.28 338.80,266.41 338.90,266.40 339.05,266.65 339.20,266.27 339.35,266.50 339.50,266.54 339.65,266.52 339.80,266.20 339.95,266.60 340.10,266.32 340.20,266.55 340.25,266.46 340.40,266.33 340.55,266.42 340.70,265.99 340.85,265.14 340.90,265.09 341.00,264.78 341.15,265.30 341.30,265.97 341.45,266.40 341.60,266.22 341.75,266.39 341.90,266.18 342.05,266.54 342.20,266.53 342.30,266.57 342.35,266.22 342.50,266.44 342.65,266.42 342.80,266.27 342.95,266.31 343.00,266.65 343.10,266.60 343.25,266.33 343.40,266.59 343.70,266.52 344.40,266.40 345.10,266.52 345.80,266.33 346.50,266.33 347.10,266.20 347.20,266.48 347.25,266.44 347.40,266.51 347.55,266.39 347.70,266.36 347.85,266.29 347.90,266.47 348.00,266.31 348.15,266.39 348.30,266.45 348.45,266.29 348.60,266.37 348.75,266.07 348.90,266.10 349.05,266.12 349.20,264.91 349.30,263.72 349.35,263.07 349.50,262.31 349.65,263.11 349.80,265.05" fill="none" stroke="#F14B56" stroke-width="1.45" stroke-linejoin="round"/>
<path d="M38.50,228.25 39.20,228.26 39.50,228.42 39.65,228.32 39.80,228.30 39.90,228.45 39.95,228.68 40.10,228.64 40.25,228.64 40.40,228.41 40.55,228.55 40.60,228.44 40.70,228.40 40.85,228.37 41.00,228.42 41.15,228.73 41.30,228.66 41.45,228.50 41.60,227.86 41.75,226.33 41.90,225.61 42.00,226.14 42.05,226.59 42.20,227.95 42.35,228.63 42.50,228.47 42.65,228.75 42.70,228.79 42.80,228.75 42.95,228.63 43.10,228.79 43.25,228.65 43.40,229.05 43.55,229.04 43.70,228.92 43.85,228.84 44.00,229.13 44.10,228.99 44.15,229.13 44.30,229.14 44.80,229.05 45.50,229.08 46.20,229.23 46.90,229.22 47.60,229.16 48.30,229.28 49.00,229.56 49.70,229.27 50.40,229.33 51.10,229.63 51.80,229.53 52.50,229.68 53.20,229.70 53.90,229.69 54.60,230.02 55.30,229.71 56.00,229.85 56.70,229.79 57.40,230.02 58.10,229.91 58.80,229.98 59.50,230.19 60.20,230.04 60.90,230.18 61.60,230.37 62.30,230.05 63.00,230.06 63.70,230.16 64.40,230.43 65.10,230.39 65.80,230.25 66.50,230.32 67.20,230.27 67.90,230.42 68.60,230.25 69.30,230.56 70.00,230.66 70.70,230.70 71.40,230.62 72.10,230.74 72.80,230.34 73.50,230.47 74.20,230.78 74.90,230.71 75.60,230.56 76.30,230.81 77.00,230.68 77.70,230.77 78.40,230.53 79.10,230.46 79.40,230.54 79.55,230.39 79.70,230.48 79.80,230.72 79.85,230.44 80.00,230.27 80.15,230.25 80.30,230.27 80.45,230.50 80.50,230.30 80.60,230.23 80.75,230.09 80.90,230.40 81.05,230.06 81.20,229.77 81.35,228.85 81.50,225.55 81.65,219.07 81.80,215.32 81.90,217.02 81.95,219.03 82.10,225.77 82.25,228.98 82.40,230.18 82.55,230.00 82.60,230.22 82.70,230.40 82.85,230.33 83.00,230.66 83.15,230.50 83.30,230.45 83.45,230.58 83.60,230.46 83.75,230.67 83.90,230.63 84.00,230.93 84.05,230.92 84.20,230.80 84.70,230.67 85.40,230.84 86.10,230.88 86.80,230.89 87.50,230.91 88.20,231.19 88.90,230.85 89.60,230.78 90.30,231.11 91.00,230.84 91.70,230.86 92.00,230.49 92.15,230.65 92.30,230.46 92.40,230.47 92.45,230.42 92.60,230.22 92.75,229.93 92.90,229.86 93.05,230.02 93.10,229.98 93.20,229.88 93.35,229.43 93.50,229.34 93.65,229.11 93.80,228.47 93.95,226.15 94.10,216.74 94.25,198.48 94.40,187.34 94.50,192.56 94.55,198.60 94.70,216.94 94.85,225.84 95.00,228.63 95.15,229.20 95.20,229.18 95.30,229.09 95.45,229.70 95.60,229.56 95.75,230.09 95.90,230.10 96.05,229.96 96.20,230.12 96.35,230.42 96.50,230.48 96.60,230.61 96.65,230.72 96.80,230.47 97.30,230.56 98.00,231.13 98.70,230.84 99.40,231.29 100.10,231.00 100.80,231.33 101.50,231.34 102.20,231.40 102.90,231.27 103.60,231.41 104.30,231.12 105.00,231.32 105.40,231.16 105.55,231.41 105.70,231.35 105.85,231.22 106.00,231.24 106.15,231.01 106.30,231.01 106.40,231.25 106.45,231.20 106.60,231.36 106.75,231.24 106.90,231.02 107.05,231.11 107.10,231.28 107.20,231.16 107.35,230.84 107.50,230.84 107.65,230.13 107.80,229.37 107.95,230.00 108.10,230.63 108.25,231.17 108.40,231.05 108.50,231.03 108.55,231.15 108.70,231.37 108.85,230.99 109.00,231.00 109.15,231.23 109.20,231.35 109.30,231.18 109.45,231.15 109.60,231.34 109.75,231.30 109.90,230.99 110.05,231.35 110.20,231.04 110.60,231.08 111.30,231.30 112.00,231.08 112.70,231.20 113.40,230.85 114.10,231.06 114.80,230.62 115.50,230.41 116.20,230.27 116.90,229.77 117.40,229.39 117.55,229.38 117.60,229.23 117.70,228.79 117.85,228.71 118.00,228.57 118.15,228.27 118.30,228.06 118.45,227.61 118.60,227.02 118.75,226.62 118.90,226.32 119.00,225.65 119.05,225.57 119.20,224.28 119.35,218.33 119.50,196.00 119.65,151.87 119.70,137.89 119.80,125.16 119.95,151.79 120.10,196.05 120.25,218.12 120.40,224.13 120.55,225.45 120.70,226.07 120.85,226.53 121.00,226.85 121.10,227.38 121.15,227.32 121.30,227.78 121.45,227.83 121.60,228.05 121.75,228.29 121.80,228.64 121.90,228.49 122.05,228.97 122.20,228.87 122.50,229.19 123.20,229.40 123.90,229.57 124.60,229.22 125.30,229.16 126.00,229.18 126.40,228.72 126.55,228.88 126.70,228.69 126.85,228.62 127.00,228.44 127.15,228.39 127.30,228.74 127.40,228.65 127.45,228.62 127.60,228.56 127.75,228.57 127.90,228.16 128.05,228.30 128.10,228.24 128.20,228.23 128.35,228.28 128.50,227.90 128.60,227.63 128.65,227.06 128.75,226.99 128.80,226.95 128.90,227.11 128.95,227.21 129.05,227.65 129.10,227.56 129.20,228.02 129.25,227.84 129.35,227.96 129.40,228.09 129.50,228.00 129.55,227.82 129.65,227.77 129.70,227.81 129.80,227.92 129.85,228.08 129.95,228.02 130.00,227.79 130.10,227.78 130.15,227.95 130.20,227.71 130.25,227.76 130.30,227.57 130.40,227.63 130.45,227.77 130.55,227.77 130.60,227.68 130.70,227.35 130.75,227.44 130.85,226.92 130.90,226.54 131.00,226.35 131.05,226.79 131.15,227.09 131.20,227.26 131.30,227.49 131.45,227.67 131.60,227.69 131.75,227.83 131.90,227.88 132.05,228.27 132.20,228.33 132.30,228.34 132.35,228.09 132.50,228.21 132.65,228.32 132.80,228.70 132.95,228.44 133.00,228.74 133.10,228.75 133.25,228.77 133.40,229.03 133.70,228.86 134.40,229.21 135.10,229.24 135.80,229.38 136.50,229.50 137.20,229.77 137.90,229.82 138.60,229.92 139.30,230.44 140.00,230.21 140.70,230.54 141.40,230.50 141.50,230.52 141.65,230.50 141.80,230.63 141.95,230.61 142.10,230.54 142.25,230.47 142.40,230.53 142.55,230.55 142.70,230.47 142.80,230.45 142.85,230.29 143.00,230.59 143.15,230.42 143.30,230.21 143.45,230.09 143.50,230.26 143.60,229.48 143.75,228.26 143.90,227.61 144.05,228.48 144.20,229.55 144.35,230.24 144.50,230.43 144.65,230.30 144.80,230.71 144.90,230.34 144.95,230.77 145.10,230.43 145.25,230.45 145.40,230.77 145.55,230.78 145.60,230.52 145.70,230.67 145.85,230.65 146.00,230.77 146.15,230.55 146.30,230.84 147.00,230.96 147.70,230.87 148.40,230.98 149.10,230.97 149.25,230.72 149.40,230.92 149.55,230.90 149.70,230.77 149.80,230.55 149.85,230.77 150.00,230.87 150.15,230.58 150.30,230.69 150.45,230.76 150.50,230.61 150.60,230.33 150.75,230.52 150.90,230.20 151.05,229.80 151.20,227.11 151.35,221.80 151.50,218.92 151.65,221.95 151.80,227.00 151.90,229.28 151.95,229.87 152.10,230.56 152.25,230.73 152.40,230.72 152.55,230.81 152.60,230.79 152.70,230.80 152.85,231.05 153.00,230.82 153.15,230.75 153.30,231.06 153.45,231.00 153.60,231.05 153.75,231.10 153.90,230.98 154.00,230.97 154.70,231.00 155.40,231.36 156.10,231.45 156.80,231.37 157.50,231.13 158.20,231.50 158.90,231.41 159.60,231.21 159.90,230.96 160.05,231.30 160.20,231.18 160.30,231.16 160.35,230.89 160.50,231.17 160.65,230.82 160.80,230.98 160.95,230.78 161.00,230.85 161.10,231.05 161.25,230.92 161.40,230.86 161.55,230.53 161.70,230.36 161.85,229.57 162.00,225.87 162.15,219.25 162.30,215.36 162.40,217.27 162.45,219.45 162.60,226.00 162.75,229.62 162.90,230.55 163.05,230.73 163.10,230.66 163.20,230.61 163.35,230.63 163.50,231.08 163.65,231.17 163.80,230.93 163.95,231.19 164.10,231.08 164.25,231.22 164.40,231.35 164.50,231.14 164.55,231.28 164.70,231.14 165.20,231.33 165.90,231.19 166.60,231.34 167.30,231.39 168.00,231.69 168.70,231.36 169.40,231.65 170.10,231.37 170.80,231.76 171.50,231.39 172.20,231.33 172.50,231.36 172.65,231.67 172.80,231.53 172.90,231.62 172.95,231.44 173.10,231.25 173.25,231.33 173.40,231.35 173.55,231.56 173.60,231.18 173.70,231.19 173.85,231.41 174.00,231.04 174.15,231.35 174.30,230.92 174.45,230.49 174.60,228.43 174.75,224.38 174.90,221.48 175.00,223.04 175.05,224.05 175.20,228.44 175.35,230.24 175.50,231.10 175.65,230.96 175.70,231.00 175.80,230.96 175.95,231.13 176.00,231.14 176.10,231.45 176.15,231.29 176.25,231.20 176.30,231.48 176.40,231.13 176.45,231.15 176.55,231.49 176.60,231.49 176.70,231.37 176.75,231.50 176.85,231.09 176.90,231.46 177.00,231.37 177.05,231.35 177.10,231.42 177.15,231.09 177.20,231.12 177.30,231.08 177.35,231.22 177.50,231.21 177.65,231.16 177.80,230.96 177.95,230.59 178.10,228.52 178.25,224.31 178.40,221.46 178.50,222.75 178.55,224.09 178.70,228.29 178.85,230.57 179.00,230.96 179.15,231.28 179.20,231.19 179.30,231.24 179.45,231.45 179.60,231.60 179.75,231.31 179.90,231.42 180.05,231.73 180.20,231.42 180.35,231.36 180.50,231.46 180.60,231.75 180.65,231.71 180.80,231.82 181.30,231.67 182.00,231.51 182.70,231.65 183.40,231.83 184.10,231.68 184.80,231.54 185.40,231.60 185.50,231.63 185.55,231.58 185.70,231.60 185.85,231.45 186.00,231.38 186.15,231.69 186.20,231.66 186.30,231.50 186.45,231.33 186.60,231.37 186.75,231.44 186.90,231.54 187.05,231.29 187.20,231.37 187.35,230.61 187.50,228.26 187.60,225.67 187.65,224.13 187.80,221.49 187.95,224.18 188.10,228.20 188.25,230.57 188.30,231.02 188.40,231.01 188.55,231.10 188.70,231.23 188.85,231.33 189.00,231.44 189.15,231.43 189.30,231.60 189.45,231.43 189.60,231.53 189.70,231.69 189.75,231.64 189.90,231.85 190.05,231.85 190.20,231.57 190.40,231.62 191.10,231.76 191.80,231.79 192.50,231.73 193.20,231.96 193.90,231.68 194.60,231.80 195.30,231.65 196.00,231.98 196.70,231.85 197.40,232.01 198.10,231.63 198.80,231.86 199.50,231.77 200.10,231.48 200.20,231.81 200.25,231.83 200.40,231.46 200.55,231.82 200.70,231.72 200.85,231.62 200.90,231.58 201.00,231.44 201.15,231.31 201.30,231.46 201.45,231.59 201.60,231.24 201.75,231.29 201.90,231.07 202.05,230.68 202.20,228.61 202.30,225.79 202.35,223.99 202.50,221.41 202.65,223.86 202.80,228.41 202.95,230.75 203.00,231.03 203.10,230.97 203.25,231.26 203.40,231.17 203.55,231.38 203.70,231.64 203.85,231.40 204.00,231.68 204.15,231.75 204.30,231.71 204.40,231.46 204.45,231.78 204.60,231.80 204.75,231.85 204.90,231.42 205.10,231.43 205.30,231.57 205.45,231.68 205.60,231.64 205.75,231.49 205.80,231.74 205.90,231.75 206.05,231.73 206.20,231.68 206.35,231.69 206.50,231.74 206.65,231.46 206.80,231.61 206.95,231.46 207.10,231.41 207.20,231.62 207.25,231.34 207.40,230.70 207.55,229.38 207.70,228.74 207.85,229.32 207.90,230.01 208.00,230.59 208.15,231.63 208.30,231.45 208.45,231.76 208.60,231.68 208.75,231.65 208.90,231.61 209.05,231.64 209.20,231.83 209.30,231.73 209.35,231.74 209.50,231.62 209.65,231.79 209.80,231.60 209.95,231.74 210.00,231.82 210.10,231.77 210.70,231.80 211.40,231.80 212.10,231.64 212.80,231.97 213.50,231.83 214.20,231.83 214.90,231.89 215.60,231.63 216.30,231.52 217.00,231.43 217.70,231.33 218.40,231.16 219.10,230.93 219.25,230.81 219.40,230.85 219.55,230.68 219.70,230.62 219.80,230.68 219.85,230.49 219.90,230.69 220.00,230.58 220.05,230.33 220.15,230.45 220.20,230.11 220.30,229.97 220.35,230.31 220.45,229.76 220.50,229.68 220.60,229.91 220.65,229.44 220.75,229.54 220.80,229.38 220.90,228.87 220.95,228.53 221.05,227.32 221.10,225.53 221.20,219.92 221.25,215.86 221.35,206.23 221.40,201.66 221.50,197.43 221.55,198.76 221.65,205.68 221.70,210.48 221.80,218.91 221.85,222.08 221.90,223.36 221.95,223.85 222.00,223.09 222.10,219.67 222.15,217.11 222.25,213.65 222.30,213.34 222.40,215.22 222.45,217.62 222.55,222.79 222.60,224.82 222.70,227.64 222.75,228.64 222.85,229.24 222.90,229.57 223.00,229.65 223.05,229.59 223.15,229.85 223.20,229.83 223.30,229.85 223.35,230.00 223.45,229.95 223.50,230.06 223.60,229.99 223.65,229.82 223.75,229.45 223.80,229.02 223.90,229.03 223.95,229.21 224.00,229.18 224.05,229.65 224.10,229.58 224.20,230.44 224.25,230.61 224.35,230.90 224.40,230.90 224.50,230.94 224.55,230.84 224.65,231.02 224.70,231.11 224.80,231.02 224.95,231.09 225.10,231.27 225.25,231.03 225.40,231.09 225.55,231.00 225.70,231.40 225.85,231.32 226.00,231.37 226.10,231.20 226.15,231.18 226.30,231.34 226.80,231.58 227.50,231.43 228.20,231.53 228.90,231.59 229.60,231.83 230.30,231.57 231.00,231.94 231.70,231.61 232.40,231.96 233.10,232.02 233.80,231.93 234.50,232.08 235.20,231.90 235.90,231.86 236.60,231.97 237.30,231.94 238.00,232.14 238.70,232.05 239.20,232.05 239.35,232.17 239.40,232.08 239.50,232.07 239.65,232.13 239.80,232.08 239.95,231.97 240.10,231.76 240.25,231.79 240.40,231.84 240.55,231.80 240.70,231.77 240.80,231.65 240.85,231.58 241.00,231.21 241.15,230.58 241.20,229.74 241.30,227.55 241.35,225.56 241.45,221.27 241.50,219.80 241.60,217.99 241.65,218.21 241.75,221.27 241.80,223.75 241.90,227.59 241.95,228.70 242.05,230.64 242.10,231.05 242.20,231.31 242.25,231.25 242.35,231.25 242.40,231.28 242.50,231.49 242.55,231.64 242.65,231.63 242.70,231.46 242.80,231.73 242.85,231.42 242.90,231.66 242.95,231.46 243.00,231.36 243.10,231.31 243.15,231.41 243.25,230.44 243.30,229.74 243.40,228.22 243.45,227.21 243.55,225.89 243.60,225.70 243.70,226.58 243.75,227.53 243.85,229.20 243.90,230.15 244.00,231.02 244.05,231.39 244.20,231.70 244.30,232.12 244.35,231.92 244.50,232.14 244.65,232.27 244.80,232.10 244.95,232.07 245.00,232.10 245.10,232.23 245.25,232.22 245.40,232.11 245.55,232.48 245.70,232.41 245.85,232.54 246.00,232.55 246.40,232.54 247.10,232.65 247.80,232.64 248.50,232.55 249.20,232.74 249.90,232.80 250.60,232.45 251.30,232.47 252.00,232.49 252.70,232.62 253.40,232.80 254.10,232.65 254.80,232.79 255.50,232.57 256.20,232.65 256.90,232.51 257.60,232.67 258.30,232.49 259.00,232.36 259.70,232.52 260.40,232.56 261.10,232.65 261.40,232.36 261.55,232.62 261.70,232.54 261.80,232.24 261.85,232.50 262.00,232.53 262.15,232.51 262.30,232.34 262.45,232.16 262.50,232.20 262.60,232.21 262.75,232.12 262.90,231.84 263.05,232.03 263.20,231.64 263.35,230.40 263.50,226.48 263.65,218.43 263.80,213.76 263.90,215.95 263.95,218.65 264.10,226.50 264.25,230.79 264.40,231.81 264.55,231.82 264.60,232.14 264.70,232.13 264.85,232.10 265.00,232.47 265.15,232.15 265.30,232.40 265.45,232.55 265.60,232.41 265.75,232.61 265.90,232.83 266.00,232.62 266.05,232.79 266.20,232.60 266.70,233.05 267.40,233.15 268.10,232.87 268.80,233.18 269.50,233.03 270.20,232.91 270.90,233.00 271.60,233.22 272.30,233.10 273.00,233.12 273.70,232.92 274.40,232.92 275.10,232.98 275.80,233.02 276.50,233.13 277.20,232.94 277.90,232.86 278.60,233.08 279.30,232.95 279.50,232.96 279.65,232.98 279.80,232.83 279.95,232.72 280.00,232.65 280.10,232.88 280.25,232.91 280.40,232.97 280.55,232.97 280.70,232.77 280.85,232.75 281.00,232.95 281.15,232.54 281.30,232.64 281.40,232.66 281.45,232.63 281.60,232.22 281.75,231.20 281.90,230.86 282.05,231.20 282.10,231.58 282.20,232.01 282.35,232.48 282.50,232.72 282.65,232.64 282.80,232.54 282.95,232.68 283.10,232.78 283.25,232.62 283.40,232.61 283.50,232.68 283.55,232.80 283.70,232.51 283.85,232.79 284.00,232.52 284.15,232.89 284.20,232.58 284.30,232.86 284.90,232.52 285.60,232.73 286.30,232.62 287.00,232.85 287.70,232.85 288.40,232.56 289.10,232.53 289.80,232.82 290.50,232.68 291.20,232.65 291.90,232.62 292.60,232.61 293.30,232.66 294.00,232.52 294.70,232.32 294.90,232.43 295.05,232.63 295.20,232.50 295.35,232.44 295.40,232.52 295.50,232.28 295.65,232.20 295.80,232.34 295.95,231.98 296.10,232.20 296.25,231.86 296.40,231.98 296.55,231.82 296.70,231.76 296.80,231.16 296.85,231.13 296.95,230.03 297.00,228.70 297.10,226.28 297.15,224.61 297.25,222.58 297.30,222.33 297.40,223.07 297.45,224.52 297.50,226.00 297.55,227.61 297.60,228.78 297.65,229.31 297.70,230.01 297.75,230.54 297.80,230.96 297.85,231.08 297.90,231.03 297.95,231.20 298.00,231.15 298.05,231.16 298.10,231.03 298.15,230.83 298.20,231.00 298.25,230.95 298.30,231.00 298.35,230.61 298.40,230.49 298.45,230.56 298.50,230.44 298.55,230.38 298.60,230.07 298.65,230.04 298.70,229.50 298.75,228.66 298.80,227.35 298.85,225.69 298.90,222.86 298.95,219.83 299.00,215.68 299.05,211.93 299.10,208.04 299.15,205.69 299.20,204.95 299.25,205.65 299.30,207.96 299.35,211.51 299.40,214.92 299.45,218.63 299.50,221.07 299.55,222.43 299.60,222.70 299.65,221.82 299.70,220.32 299.75,218.21 299.80,216.32 299.90,214.60 299.95,215.32 300.05,219.09 300.10,221.46 300.20,226.22 300.25,227.90 300.30,229.19 300.35,229.77 300.40,230.34 300.50,230.96 300.55,230.91 300.65,231.09 300.70,231.29 300.80,231.31 300.85,231.58 300.95,231.47 301.00,231.46 301.10,231.73 301.15,231.76 301.25,232.02 301.30,232.04 301.40,231.88 301.45,231.92 301.55,232.08 301.60,232.04 301.70,232.13 301.85,232.13 302.00,232.40 302.15,232.48 302.30,232.49 302.40,232.50 303.10,232.75 303.80,232.60 304.50,232.98 305.20,232.72 305.90,232.72 306.60,232.93 307.30,232.81 308.00,232.88 308.70,233.05 309.40,232.86 310.10,232.98 310.80,232.98 311.50,233.24 312.20,232.87 312.90,233.07 313.60,233.05 314.30,232.93 315.00,233.01 315.70,233.02 316.40,233.02 317.10,233.11 317.80,233.12 318.50,233.08 319.20,233.06 319.90,233.13 320.05,233.08 320.20,232.92 320.35,233.15 320.50,233.04 320.60,233.23 320.65,232.91 320.80,233.09 320.95,232.98 321.10,233.12 321.25,233.19 321.30,233.12 321.40,233.08 321.55,233.22 321.70,232.89 321.85,233.15 322.00,232.58 322.15,232.02 322.30,231.41 322.45,231.76 322.60,232.46 322.70,232.88 322.75,232.82 322.90,233.15 323.05,232.89 323.20,233.12 323.35,233.23 323.40,233.14 323.50,233.25 323.65,233.21 323.80,233.23 323.95,232.88 324.10,233.09 324.25,233.00 324.40,233.06 324.55,233.19 324.70,233.20 324.80,232.96 325.50,232.96 326.20,232.91 326.90,233.20 327.60,233.23 328.30,232.89 328.90,232.88 329.00,232.88 329.05,233.25 329.20,232.83 329.35,233.04 329.50,233.16 329.65,232.83 329.70,233.05 329.80,232.89 329.95,233.00 330.10,232.90 330.25,232.74 330.40,233.03 330.55,232.81 330.70,232.94 330.85,232.42 331.00,231.22 331.10,229.35 331.15,228.13 331.30,226.47 331.45,228.54 331.60,231.09 331.75,232.51 331.80,232.71 331.90,232.67 332.05,232.91 332.20,232.93 332.35,232.70 332.50,232.94 332.65,233.14 332.80,233.00 332.95,233.12 333.10,232.82 333.20,232.98 333.25,233.02 333.40,233.06 333.55,233.20 333.70,233.05 333.90,233.10 334.60,233.10 335.30,233.19 336.00,233.16 336.70,233.09 337.40,233.04 338.10,233.29 338.60,233.06 338.75,233.22 338.80,233.02 338.90,233.34 339.05,233.00 339.20,233.08 339.35,233.05 339.50,233.27 339.65,233.20 339.80,232.99 339.95,232.97 340.10,233.18 340.20,233.04 340.25,232.92 340.40,232.87 340.55,233.02 340.70,232.55 340.85,231.74 340.90,231.15 341.00,231.07 341.15,231.45 341.30,232.51 341.45,232.80 341.60,232.92 341.75,233.09 341.90,232.93 342.05,233.22 342.20,232.95 342.30,233.00 342.35,233.22 342.50,233.01 342.65,233.03 342.80,233.25 342.95,233.16 343.00,233.27 343.10,233.30 343.25,233.34 343.40,232.96 343.70,233.10 344.40,233.14 345.10,233.07 345.80,233.32 346.50,233.11 347.10,233.34 347.20,232.97 347.25,233.13 347.40,233.21 347.55,233.27 347.70,233.14 347.85,233.32 347.90,233.05 348.00,233.07 348.15,233.00 348.30,232.99 348.45,233.11 348.60,233.21 348.75,232.97 348.90,233.08 349.05,232.97 349.20,232.87 349.30,232.23 349.35,232.13 349.50,231.47 349.65,232.17 349.80,232.45" fill="none" stroke="#2E76E3" stroke-width="1.45" stroke-linejoin="round"/>
<path d="M38.50,174.58 39.20,174.81 39.90,174.82 40.60,175.02 41.30,175.12 42.00,174.96 42.70,175.02 43.40,175.46 44.10,175.29 44.80,175.35 45.50,175.76 46.20,175.60 46.90,175.82 47.60,175.73 48.30,175.86 49.00,175.70 49.70,175.97 50.40,176.13 51.10,176.03 51.80,176.18 52.50,176.20 53.20,175.98 53.90,176.34 54.60,176.32 55.30,176.24 56.00,176.18 56.70,176.60 57.40,176.49 58.10,176.65 58.80,176.78 59.50,176.77 60.20,176.91 60.90,176.73 61.30,176.94 61.45,176.80 61.60,177.02 61.75,177.01 61.90,176.67 62.05,176.70 62.20,176.74 62.30,177.07 62.35,176.84 62.50,176.93 62.65,176.80 62.80,176.89 62.95,176.84 63.00,176.83 63.10,176.92 63.25,176.85 63.40,176.70 63.55,176.02 63.70,175.77 63.85,176.12 64.00,176.79 64.15,176.96 64.30,176.83 64.40,177.15 64.45,177.21 64.60,177.20 64.75,177.07 64.90,177.15 65.05,176.95 65.10,177.22 65.20,177.12 65.35,177.01 65.50,176.92 65.65,177.28 65.80,177.36 65.95,176.97 66.10,177.29 66.50,177.15 67.20,177.08 67.90,177.18 68.60,177.43 69.30,177.51 70.00,177.18 70.70,177.46 71.40,177.24 72.10,177.57 72.80,177.43 73.50,177.70 74.20,177.78 74.90,177.60 75.60,177.86 76.30,177.59 77.00,177.53 77.70,177.81 78.40,177.61 79.10,177.74 79.80,177.89 80.50,178.03 81.20,177.88 81.90,177.88 82.60,178.29 83.30,178.08 84.00,178.40 84.70,178.39 85.40,178.18 86.10,178.21 86.80,178.22 87.50,178.25 88.20,178.19 88.90,178.11 89.60,178.05 90.30,178.05 91.00,177.63 91.70,177.22 91.80,177.28 91.95,176.95 92.10,176.84 92.25,176.99 92.40,176.62 92.55,176.44 92.70,175.98 92.85,175.91 93.00,175.69 93.10,175.22 93.15,175.36 93.30,174.96 93.45,174.19 93.60,173.42 93.75,169.07 93.80,165.60 93.90,152.47 94.05,119.96 94.20,100.09 94.35,119.66 94.50,152.34 94.65,169.17 94.80,173.58 94.95,174.29 95.10,174.91 95.20,175.25 95.25,175.26 95.40,175.62 95.55,175.89 95.70,176.17 95.85,176.50 95.90,176.43 96.00,176.60 96.15,176.94 96.30,176.77 96.45,177.14 96.60,177.34 97.30,177.57 98.00,177.79 98.70,178.21 99.40,178.07 100.10,178.13 100.80,178.29 101.50,178.44 102.20,178.19 102.90,178.30 103.60,178.30 104.30,178.51 105.00,178.32 105.40,178.48 105.55,178.17 105.70,178.24 105.85,178.36 106.00,178.45 106.15,178.25 106.30,178.14 106.40,178.08 106.45,178.25 106.60,178.09 106.75,178.34 106.90,178.32 107.05,178.01 107.10,178.03 107.20,178.22 107.35,177.92 107.50,177.14 107.65,175.25 107.80,174.12 107.95,175.21 108.10,177.11 108.25,177.73 108.40,177.98 108.50,178.05 108.55,178.06 108.70,178.08 108.85,178.32 109.00,177.99 109.15,177.94 109.20,178.35 109.30,178.33 109.45,178.38 109.60,178.14 109.75,178.37 109.90,178.36 110.05,178.05 110.20,178.28 110.60,178.31 111.30,178.22 112.00,178.12 112.70,177.98 113.40,177.94 114.10,177.82 114.80,177.66 115.50,177.76 116.20,177.46 116.90,177.45 117.10,177.03 117.25,177.33 117.40,177.16 117.55,177.17 117.60,177.13 117.70,177.06 117.85,176.81 118.00,176.44 118.15,176.62 118.30,176.21 118.45,176.08 118.60,176.03 118.75,175.70 118.90,175.14 119.00,174.36 119.05,173.15 119.20,165.05 119.35,149.29 119.50,139.98 119.65,149.35 119.70,155.07 119.80,164.97 119.95,172.83 120.10,175.01 120.25,175.60 120.40,175.54 120.55,175.98 120.70,176.17 120.85,176.23 121.00,176.32 121.10,176.01 121.15,176.31 121.30,176.46 121.45,176.15 121.60,176.27 121.75,176.29 121.80,176.41 121.90,176.36 122.10,176.38 122.25,176.49 122.40,176.12 122.50,176.12 122.55,176.14 122.70,176.09 122.85,176.00 123.00,176.32 123.15,176.18 123.20,175.80 123.30,175.91 123.45,175.70 123.60,175.55 123.75,175.36 123.90,175.11 124.05,173.51 124.20,167.35 124.35,155.33 124.50,148.11 124.60,151.52 124.65,155.46 124.80,167.44 124.95,173.32 125.10,174.73 125.25,175.12 125.30,175.27 125.40,175.47 125.55,175.68 125.70,175.59 125.85,175.86 126.00,175.83 126.15,175.79 126.30,175.80 126.45,175.87 126.60,175.96 126.70,175.84 126.75,175.95 126.90,175.83 127.40,175.51 128.10,174.84 128.80,174.03 129.50,173.07 130.20,172.57 130.90,172.22 131.60,172.62 132.30,173.17 133.00,173.44 133.70,174.10 134.40,174.45 135.10,174.56 135.80,174.95 136.50,175.08 137.20,175.65 137.90,175.82 138.60,176.14 139.30,176.30 140.00,176.43 140.70,176.62 141.40,176.69 142.10,176.63 142.80,176.97 143.50,176.83 144.20,176.99 144.90,177.37 145.60,177.13 146.30,177.24 147.00,177.32 147.70,177.73 148.40,177.49 149.10,177.48 149.80,177.89 150.50,177.62 151.20,177.99 151.90,177.96 152.60,178.07 153.30,178.16 154.00,178.02 154.70,178.14 155.40,177.82 156.10,178.16 156.80,178.05 157.50,178.14 158.20,177.86 158.90,178.11 159.60,178.13 160.00,177.68 160.15,177.76 160.30,177.83 160.45,177.91 160.60,177.60 160.75,177.52 160.90,177.49 161.00,177.61 161.05,177.64 161.20,177.40 161.35,177.29 161.50,177.19 161.65,177.01 161.70,176.98 161.80,176.60 161.95,175.52 162.10,170.83 162.25,160.92 162.40,155.18 162.55,160.81 162.70,170.72 162.85,175.65 163.00,176.88 163.10,177.05 163.15,177.10 163.30,177.33 163.45,177.57 163.60,177.34 163.75,177.41 163.80,177.72 163.90,177.84 164.05,177.74 164.20,177.76 164.35,177.94 164.50,177.75 164.65,177.82 164.80,177.83 165.20,178.08 165.90,178.05 166.60,178.07 167.30,178.30 168.00,178.44 168.70,178.16 169.40,178.34 170.10,178.20 170.80,178.38 171.50,178.23 172.20,178.03 172.40,177.99 172.55,177.88 172.70,178.06 172.85,177.99 172.90,177.89 173.00,177.95 173.15,177.90 173.30,178.07 173.45,177.75 173.60,178.07 173.75,177.79 173.90,177.77 174.05,177.63 174.20,177.63 174.30,177.29 174.35,176.83 174.50,174.18 174.65,169.12 174.80,166.04 174.95,168.97 175.00,170.95 175.10,174.36 175.25,176.75 175.40,177.31 175.55,177.47 175.70,177.75 175.85,177.79 176.00,177.95 176.15,177.94 176.30,177.69 176.40,177.68 176.45,177.71 176.60,177.69 176.75,177.91 176.90,177.97 177.05,177.97 177.10,177.67 177.20,177.89 177.35,177.31 177.50,176.03 177.65,173.51 177.80,171.62 177.95,173.26 178.10,176.25 178.25,177.37 178.40,177.76 178.50,177.93 178.55,177.99 178.70,177.74 178.85,177.93 179.00,178.00 179.15,178.05 179.20,177.94 179.30,178.12 179.45,178.31 179.60,178.08 179.75,178.16 179.90,177.99 180.05,178.07 180.20,178.26 180.60,178.04 181.30,178.41 182.00,178.43 182.70,178.08 183.40,178.44 184.10,178.17 184.80,178.32 185.20,178.28 185.35,178.06 185.50,178.21 185.65,178.19 185.80,178.23 185.95,177.97 186.10,178.15 186.20,178.22 186.25,178.08 186.40,177.98 186.55,177.75 186.70,177.86 186.85,177.73 186.90,177.86 187.00,177.73 187.15,177.05 187.30,174.45 187.45,169.85 187.60,166.91 187.75,169.65 187.90,174.78 188.05,177.11 188.20,177.52 188.30,177.99 188.35,177.68 188.50,177.84 188.65,178.08 188.80,178.08 188.95,178.11 189.00,178.17 189.10,178.11 189.25,178.08 189.40,178.06 189.55,178.04 189.70,178.35 189.85,178.39 190.00,178.32 190.40,178.46 191.10,178.36 191.80,178.37 192.50,178.47 193.20,178.72 193.90,178.38 194.60,178.61 195.30,178.52 196.00,178.77 196.70,178.61 197.40,178.62 198.10,178.67 198.80,178.75 199.50,178.85 200.20,178.65 200.35,178.86 200.50,178.53 200.65,178.59 200.80,178.50 200.90,178.50 200.95,178.79 201.10,178.75 201.25,178.49 201.40,178.46 201.55,178.53 201.60,178.66 201.70,178.67 201.85,178.59 202.00,178.41 202.15,177.75 202.30,176.03 202.45,172.32 202.60,170.27 202.75,172.50 202.90,175.97 203.00,177.43 203.05,178.06 203.20,178.21 203.35,178.67 203.50,178.77 203.65,178.85 203.70,178.62 203.80,178.72 203.95,178.77 204.10,178.83 204.25,179.01 204.40,178.91 204.55,178.76 204.70,179.03 204.85,178.89 205.00,178.96 205.10,179.02 205.80,178.77 206.50,179.15 207.20,179.13 207.90,179.08 208.60,179.11 209.30,179.09 210.00,178.97 210.70,179.12 211.40,178.90 212.10,179.09 212.80,179.14 213.50,179.04 214.20,179.07 214.90,179.22 215.60,179.15 216.30,178.76 217.00,178.98 217.70,178.78 218.40,178.35 218.90,178.29 219.05,178.16 219.10,178.06 219.20,178.21 219.35,178.28 219.50,177.91 219.65,178.03 219.80,177.81 219.95,177.40 220.10,177.54 220.25,177.21 220.40,177.10 220.50,176.80 220.55,176.69 220.70,175.87 220.85,173.40 221.00,163.08 221.15,142.59 221.20,135.98 221.30,130.09 221.45,142.43 221.60,162.72 221.75,173.06 221.90,175.76 222.05,176.45 222.20,176.76 222.35,177.16 222.50,177.47 222.60,177.52 222.65,177.53 222.80,177.79 222.95,177.78 223.10,177.97 223.25,178.20 223.30,178.08 223.40,178.05 223.55,178.45 223.70,178.44 224.00,178.42 224.70,178.63 225.40,178.83 226.10,178.95 226.80,178.87 227.50,178.84 228.20,178.99 228.90,179.30 229.60,179.07 230.30,179.27 231.00,179.21 231.70,179.26 232.40,179.29 233.10,179.44 233.80,179.38 234.50,179.35 235.20,179.41 235.90,179.45 236.60,179.60 237.30,179.40 238.00,179.36 238.70,179.48 239.10,179.40 239.25,179.50 239.40,179.17 239.55,179.29 239.70,179.24 239.85,179.02 240.00,179.37 240.10,178.99 240.15,178.91 240.30,178.99 240.45,178.75 240.60,178.82 240.75,178.54 240.80,178.36 240.90,178.08 241.05,176.98 241.20,171.37 241.35,160.90 241.50,154.26 241.65,160.98 241.80,171.41 241.95,176.82 242.10,178.24 242.20,178.74 242.25,178.74 242.40,178.79 242.55,178.82 242.70,179.20 242.85,179.43 242.90,179.30 243.00,179.10 243.15,179.19 243.30,179.29 243.45,179.39 243.60,179.38 243.75,179.44 243.90,179.76 244.30,179.97 245.00,179.80 245.70,180.23 246.40,180.09 247.10,180.29 247.80,180.39 248.50,180.44 249.20,180.08 249.90,180.23 250.60,180.40 251.30,180.57 252.00,180.22 252.70,180.34 253.40,180.61 254.10,180.31 254.80,180.46 255.50,180.45 256.20,180.62 256.90,180.75 257.60,180.43 258.30,180.69 259.00,180.69 259.70,180.73 260.40,180.59 261.10,180.71 261.50,180.42 261.65,180.42 261.80,180.31 261.95,180.53 262.10,180.36 262.25,180.23 262.40,180.15 262.50,180.36 262.55,180.29 262.70,180.28 262.85,180.07 263.00,180.03 263.15,179.78 263.20,179.97 263.30,179.51 263.45,178.81 263.60,175.48 263.75,168.62 263.90,164.20 264.05,168.43 264.20,175.53 264.35,178.91 264.50,179.91 264.60,180.07 264.65,179.94 264.80,180.25 264.95,180.26 265.10,180.16 265.25,180.24 265.30,180.13 265.40,180.31 265.55,180.60 265.70,180.27 265.85,180.52 266.00,180.35 266.15,180.37 266.30,180.64 266.70,180.52 267.40,180.51 268.10,180.61 268.80,180.85 269.50,180.85 270.20,180.61 270.90,180.71 271.60,181.04 272.30,180.71 273.00,180.86 273.70,180.79 274.40,180.94 275.10,180.85 275.80,180.91 276.50,180.79 277.20,180.61 277.90,180.59 278.60,180.51 278.75,180.83 278.90,180.51 279.05,180.47 279.20,180.87 279.30,180.53 279.35,180.83 279.50,180.46 279.65,180.62 279.80,180.50 279.95,180.75 280.00,180.65 280.10,180.65 280.25,180.67 280.40,180.68 280.55,180.28 280.70,179.75 280.85,178.42 281.00,177.50 281.15,178.59 281.30,179.74 281.40,180.34 281.45,180.21 281.60,180.52 281.75,180.52 281.90,180.65 282.05,180.38 282.10,180.50 282.20,180.57 282.35,180.40 282.50,180.62 282.65,180.71 282.80,180.57 282.95,180.68 283.10,180.66 283.25,180.49 283.40,180.56 283.50,180.84 284.20,180.56 284.90,180.61 285.60,180.46 285.90,180.52 286.05,180.49 286.20,180.83 286.30,180.74 286.35,180.80 286.50,180.85 286.65,180.69 286.80,180.83 286.95,180.65 287.00,180.60 287.10,180.83 287.25,180.81 287.40,180.82 287.55,180.62 287.70,180.73 287.85,180.52 288.00,180.59 288.15,180.17 288.30,179.66 288.40,180.06 288.45,179.85 288.60,180.20 288.75,180.67 288.90,180.54 289.05,180.65 289.10,180.71 289.20,180.45 289.35,180.76 289.50,180.56 289.65,180.64 289.80,180.61 289.95,180.79 290.10,180.79 290.25,180.59 290.40,180.52 290.50,180.61 290.55,180.66 290.70,180.51 291.20,180.56 291.90,180.84 292.60,180.82 293.30,180.94 294.00,180.93 294.70,180.86 295.30,180.59 295.40,180.49 295.45,180.55 295.60,180.59 295.75,180.60 295.90,180.58 296.05,180.47 296.10,180.68 296.20,180.41 296.35,180.45 296.50,180.59 296.65,180.51 296.80,180.22 296.90,180.15 296.95,180.37 297.05,179.94 297.10,179.93 297.20,179.84 297.25,179.56 297.35,178.27 297.40,177.28 297.50,174.73 297.55,173.53 297.65,171.24 297.70,171.14 297.80,172.22 297.85,173.57 297.95,175.96 298.00,177.21 298.10,178.71 298.15,179.32 298.20,179.54 298.25,179.56 298.30,179.85 298.40,179.70 298.45,179.80 298.55,179.76 298.60,179.99 298.70,179.73 298.75,179.55 298.85,178.91 298.90,178.51 299.00,176.48 299.05,174.91 299.15,171.25 299.20,169.52 299.30,167.71 299.35,168.09 299.45,171.25 299.50,173.19 299.60,176.56 299.65,177.96 299.75,179.33 299.80,179.58 299.90,179.89 299.95,179.91 300.05,180.29 300.10,180.44 300.20,180.51 300.30,180.38 300.35,180.49 300.50,180.68 300.65,180.69 300.80,180.66 300.95,180.62 301.00,180.68 301.10,180.56 301.25,180.61 301.40,180.86 301.55,181.03 301.70,180.86 302.40,180.91 303.10,180.96 303.80,181.06 304.50,181.26 305.20,181.14 305.90,181.39 306.60,181.06 307.30,181.15 308.00,181.25 308.70,181.22 309.40,181.42 310.10,181.41 310.80,181.46 311.50,181.32 312.20,181.07 312.90,181.31 313.60,181.30 314.30,181.27 315.00,181.18 315.70,181.37 316.40,181.45 317.10,181.10 317.80,181.34 318.50,181.21 319.20,181.26 319.90,181.42 320.05,181.45 320.20,181.30 320.35,181.10 320.50,181.42 320.60,181.09 320.65,181.17 320.80,181.36 320.95,181.13 321.10,181.10 321.25,181.39 321.30,181.39 321.40,181.10 321.55,181.12 321.70,181.05 321.85,180.87 322.00,180.48 322.15,179.92 322.30,179.00 322.45,179.59 322.60,180.45 322.70,180.75 322.75,181.04 322.90,181.25 323.05,181.32 323.20,181.24 323.35,181.33 323.40,180.98 323.50,181.11 323.65,181.41 323.80,181.03 323.95,181.12 324.10,181.22 324.25,181.13 324.40,181.25 324.55,181.04 324.70,181.12 324.80,181.44 325.50,181.09 326.20,181.43 326.90,181.11 327.60,181.46 328.30,181.31 329.00,181.28 329.60,181.04 329.70,180.99 329.75,181.30 329.90,181.04 330.05,181.03 330.20,181.30 330.35,181.31 330.40,180.94 330.50,181.33 330.65,181.13 330.80,181.04 330.95,180.90 331.10,181.00 331.25,181.23 331.40,180.85 331.55,180.51 331.70,179.44 331.80,178.06 331.85,177.41 332.00,176.36 332.15,177.29 332.30,179.46 332.45,180.86 332.50,181.03 332.60,181.16 332.75,180.90 332.90,180.98 333.05,181.27 333.20,181.09 333.35,181.20 333.50,181.05 333.65,180.93 333.80,181.09 333.90,181.27 333.95,181.29 334.10,181.20 334.25,181.17 334.40,181.21 334.60,181.17 335.30,181.23 336.00,181.37 336.70,181.10 337.40,181.27 338.10,181.40 338.60,181.35 338.75,181.05 338.80,181.39 338.90,181.33 339.05,181.03 339.20,181.06 339.35,181.02 339.50,180.94 339.65,181.33 339.80,181.07 339.95,181.25 340.10,180.89 340.20,180.83 340.25,181.19 340.40,181.10 340.55,180.93 340.70,179.80 340.85,177.78 340.90,177.27 341.00,176.40 341.15,177.79 341.30,179.70 341.45,180.56 341.60,181.01 341.75,180.95 341.90,181.07 342.05,181.03 342.20,181.03 342.30,181.06 342.35,181.17 342.50,181.35 342.65,181.34 342.80,181.32 342.95,181.32 343.00,181.08 343.10,181.39 343.25,181.09 343.40,181.03 343.70,181.21 344.40,181.33 345.10,181.16 345.80,181.30 346.50,181.13 347.10,181.42 347.20,181.19 347.25,181.20 347.40,181.22 347.55,181.36 347.70,181.41 347.85,181.20 347.90,181.15 348.00,181.23 348.15,180.97 348.30,181.12 348.45,181.29 348.60,181.24 348.75,180.90 348.90,181.20 349.05,180.80 349.20,180.30 349.30,179.07 349.35,178.47 349.50,177.71 349.65,178.77 349.80,180.06" fill="none" stroke="#3AB572" stroke-width="1.45" stroke-linejoin="round"/>
<path d="M38.50,145.79 39.20,145.91 39.90,145.63 40.60,145.76 41.30,146.20 42.00,146.26 42.70,146.34 43.40,146.28 44.10,146.50 44.80,146.60 45.50,146.67 46.20,146.56 46.90,146.76 47.60,146.82 48.30,147.03 49.00,147.22 49.70,147.26 50.40,147.15 51.10,147.17 51.80,147.15 52.50,147.10 53.20,147.16 53.90,147.41 54.60,147.40 55.30,147.48 56.00,147.76 56.70,147.65 57.40,147.72 58.10,147.63 58.80,147.59 59.50,147.78 60.20,147.74 60.90,147.96 61.60,148.22 62.30,148.13 63.00,147.96 63.70,148.31 64.40,148.31 65.10,148.33 65.80,148.45 66.50,148.42 67.20,148.47 67.90,148.32 68.60,148.63 69.30,148.65 70.00,148.34 70.70,148.63 71.40,148.64 72.10,148.56 72.80,148.63 73.50,148.64 74.20,148.86 74.90,148.71 75.60,148.88 76.30,148.71 77.00,148.97 77.70,149.02 78.40,148.86 79.10,148.95 79.80,149.14 80.50,149.09 81.20,149.02 81.90,148.94 82.60,149.01 83.30,149.20 84.00,148.98 84.70,149.31 85.40,149.03 86.10,149.30 86.80,149.01 87.50,149.26 88.20,149.11 88.90,148.95 89.60,148.85 90.30,148.76 91.00,148.50 91.70,147.99 91.80,147.87 91.95,147.89 92.10,147.93 92.25,147.64 92.40,147.23 92.55,147.36 92.70,147.10 92.85,146.92 93.00,146.31 93.10,146.33 93.15,145.91 93.30,145.75 93.45,145.06 93.60,144.01 93.75,139.97 93.80,136.03 93.90,123.09 94.05,90.23 94.20,69.86 94.35,89.94 94.50,123.25 94.65,139.77 94.80,144.23 94.95,144.96 95.10,145.63 95.20,145.84 95.25,146.19 95.40,146.27 95.55,146.95 95.70,146.80 95.85,147.34 95.90,147.09 96.00,147.33 96.15,147.75 96.30,147.61 96.45,147.76 96.60,148.11 97.30,148.39 98.00,148.50 98.70,149.08 99.40,148.82 100.10,148.85 100.80,149.03 101.50,149.19 102.20,149.26 102.90,148.99 103.60,149.08 104.30,148.93 105.00,149.09 105.60,149.20 105.70,149.18 105.75,149.25 105.90,149.17 106.05,149.21 106.20,149.13 106.35,149.01 106.40,148.90 106.50,149.08 106.65,148.91 106.80,148.79 106.95,148.92 107.10,149.09 107.25,148.73 107.40,148.87 107.55,148.58 107.70,147.85 107.80,146.69 107.85,146.50 108.00,145.24 108.15,146.32 108.30,147.77 108.45,148.37 108.50,148.71 108.60,148.62 108.75,148.62 108.90,148.62 109.05,148.69 109.20,148.67 109.35,148.91 109.50,148.86 109.65,149.07 109.80,149.05 109.90,149.07 109.95,148.73 110.10,148.83 110.25,148.74 110.40,148.88 110.60,148.89 111.30,148.92 112.00,148.83 112.70,148.56 113.40,148.53 114.10,148.44 114.80,148.03 115.50,147.83 116.20,147.72 116.90,147.21 117.60,146.94 117.70,146.63 117.85,146.41 118.00,146.28 118.15,146.10 118.30,145.88 118.45,145.78 118.60,145.48 118.75,145.11 118.90,144.91 119.00,144.45 119.05,144.62 119.20,144.16 119.35,143.45 119.50,142.16 119.65,137.38 119.70,133.41 119.80,118.62 119.95,82.17 120.10,59.93 120.25,82.03 120.40,118.56 120.55,137.40 120.60,139.67 120.70,142.06 120.75,142.75 120.85,143.22 120.90,143.29 121.00,143.95 121.05,143.84 121.10,143.83 121.15,144.26 121.20,144.13 121.30,144.46 121.35,144.80 121.45,144.92 121.50,144.73 121.60,145.09 121.65,145.15 121.75,145.33 121.80,145.27 121.90,145.56 121.95,145.40 122.05,145.59 122.10,145.68 122.20,146.01 122.25,145.68 122.35,146.04 122.40,145.81 122.50,145.94 122.55,145.77 122.70,144.96 122.85,143.31 123.00,142.10 123.15,143.19 123.20,143.88 123.30,145.11 123.45,146.45 123.60,146.66 123.75,146.90 123.90,146.85 124.05,146.61 124.20,146.94 124.35,147.03 124.50,147.04 124.60,146.96 124.65,146.90 124.80,146.97 124.95,147.14 125.10,146.91 125.25,147.03 125.30,147.01 125.40,147.21 126.00,147.04 126.70,146.86 127.40,146.50 128.10,145.92 128.80,145.38 129.50,144.85 130.20,144.16 130.90,143.87 131.60,144.03 132.30,144.56 133.00,144.97 133.70,145.53 134.40,145.39 135.00,145.59 135.10,145.88 135.15,145.51 135.30,145.64 135.45,145.50 135.60,145.52 135.75,145.89 135.80,145.93 135.90,145.79 136.05,145.57 136.20,145.66 136.35,145.64 136.50,145.84 136.65,145.86 136.80,145.76 136.95,145.73 137.10,145.22 137.20,144.98 137.25,144.92 137.40,144.45 137.55,144.65 137.70,145.60 137.85,146.11 137.90,145.98 138.00,146.34 138.15,146.24 138.30,146.42 138.45,146.36 138.60,146.68 138.75,146.64 138.90,146.60 139.05,146.45 139.20,146.62 139.30,146.46 139.35,146.73 139.50,146.89 139.65,146.61 139.80,146.79 140.00,146.82 140.70,146.92 141.40,147.17 142.10,147.37 142.80,147.36 143.50,147.35 144.20,147.65 144.90,147.46 145.60,147.74 146.30,147.78 147.00,147.91 147.70,148.04 148.40,147.84 149.10,148.09 149.80,148.07 150.50,148.26 151.20,148.47 151.90,148.39 152.60,148.19 153.30,148.46 154.00,148.65 154.70,148.79 155.40,148.76 156.10,148.90 156.80,148.59 157.50,149.04 158.20,148.95 158.90,148.87 159.60,148.94 160.00,148.86 160.15,148.48 160.30,148.76 160.45,148.69 160.60,148.39 160.75,148.58 160.90,148.44 161.00,148.22 161.05,148.46 161.20,148.08 161.35,148.18 161.50,147.98 161.65,147.74 161.70,147.80 161.80,147.52 161.95,146.05 162.10,141.16 162.25,130.45 162.40,124.14 162.55,130.64 162.70,141.12 162.85,146.27 163.00,147.67 163.10,147.80 163.15,147.96 163.30,147.98 163.45,148.08 163.60,148.30 163.75,148.18 163.80,148.23 163.90,148.59 164.05,148.40 164.20,148.72 164.35,148.79 164.50,148.68 164.65,148.84 164.80,148.93 165.20,149.06 165.90,148.85 166.60,148.94 167.30,149.08 168.00,149.16 168.70,149.11 169.40,149.00 170.10,149.25 170.80,149.43 171.50,149.15 172.20,149.18 172.40,149.09 172.55,149.10 172.70,149.27 172.85,149.00 172.90,149.14 173.00,149.05 173.15,149.05 173.30,149.18 173.45,148.78 173.60,149.06 173.75,148.78 173.90,148.87 174.05,148.85 174.20,148.64 174.30,148.21 174.35,148.08 174.50,145.31 174.65,140.71 174.80,137.66 174.95,140.66 175.00,142.51 175.10,145.59 175.25,147.95 175.40,148.43 175.50,148.50 175.55,148.63 175.65,148.58 175.70,148.62 175.80,148.94 175.85,148.59 175.95,148.92 176.00,148.73 176.10,148.74 176.15,148.73 176.25,148.63 176.30,148.80 176.40,148.67 176.45,148.79 176.55,148.72 176.60,148.98 176.70,148.99 176.75,148.77 176.85,148.84 176.90,148.95 177.00,148.66 177.05,148.55 177.10,148.59 177.15,148.55 177.20,148.73 177.30,148.49 177.45,147.87 177.60,145.62 177.75,140.53 177.80,139.27 177.90,137.77 178.05,140.63 178.20,145.68 178.35,147.94 178.50,148.82 178.65,149.01 178.80,148.91 178.95,149.06 179.10,149.23 179.20,149.17 179.25,149.19 179.40,149.29 179.55,149.36 179.70,149.31 179.85,149.44 179.90,149.15 180.00,149.31 180.15,149.36 180.30,149.25 180.60,149.30 181.30,149.27 182.00,149.65 182.70,149.41 183.40,149.47 184.10,149.65 184.80,149.29 185.30,149.58 185.45,149.19 185.50,149.14 185.60,149.26 185.75,149.23 185.90,149.44 186.05,149.39 186.20,149.28 186.35,149.09 186.50,149.07 186.65,148.85 186.80,149.02 186.90,148.75 186.95,148.66 187.10,148.57 187.25,147.32 187.40,143.36 187.55,135.68 187.60,132.81 187.70,130.49 187.85,135.37 188.00,143.36 188.15,147.47 188.30,148.45 188.45,148.74 188.60,148.83 188.75,148.94 188.90,149.19 189.00,149.12 189.05,149.16 189.20,149.40 189.35,149.15 189.50,149.24 189.65,149.60 189.70,149.43 189.80,149.61 189.95,149.36 190.10,149.57 190.40,149.77 191.10,149.66 191.80,149.92 192.50,149.91 193.20,149.86 193.90,150.16 194.60,149.93 195.30,149.99 196.00,150.09 196.70,149.98 197.40,150.23 198.10,150.14 198.80,150.15 199.50,150.12 200.20,150.29 200.35,150.29 200.50,150.21 200.65,150.02 200.80,149.99 200.90,150.03 200.95,149.81 201.10,149.81 201.25,150.17 201.40,149.76 201.55,150.07 201.60,149.94 201.70,150.01 201.85,149.58 202.00,149.55 202.15,149.18 202.30,146.56 202.45,142.11 202.60,139.49 202.75,142.15 202.90,146.64 203.00,148.67 203.05,148.91 203.20,149.89 203.35,149.89 203.50,149.71 203.65,150.14 203.70,149.87 203.80,150.01 203.95,150.09 204.10,149.95 204.25,150.14 204.40,149.98 204.55,150.07 204.70,150.41 204.85,150.39 205.00,150.28 205.10,150.37 205.80,150.53 206.50,150.25 207.20,150.44 207.90,150.31 208.60,150.32 209.30,150.32 210.00,150.37 210.70,150.29 211.40,150.35 212.10,150.39 212.80,150.46 213.50,150.52 214.20,150.49 214.90,150.34 215.60,150.17 216.30,150.25 217.00,149.79 217.70,149.59 218.40,149.66 218.90,149.32 219.05,149.05 219.10,149.09 219.20,148.98 219.35,148.92 219.50,148.79 219.65,148.63 219.80,148.65 219.95,148.47 220.10,148.14 220.25,147.86 220.40,147.48 220.50,147.45 220.55,147.41 220.70,146.36 220.85,143.55 221.00,131.94 221.15,109.00 221.20,101.53 221.30,95.00 221.45,108.79 221.60,131.69 221.75,143.46 221.90,146.49 222.05,147.19 222.20,147.60 222.35,147.86 222.50,148.00 222.60,147.95 222.65,148.33 222.80,148.53 222.95,148.68 223.10,148.71 223.25,148.58 223.30,148.69 223.40,148.72 223.55,149.04 223.70,149.08 224.00,149.06 224.70,149.63 225.40,149.79 226.10,149.86 226.80,149.75 227.50,149.75 228.20,149.78 228.90,150.12 229.60,150.12 230.30,150.00 231.00,150.33 231.70,150.24 232.40,150.22 233.10,150.27 233.80,150.45 234.50,150.37 235.20,150.49 235.90,150.27 236.60,150.55 237.30,150.37 238.00,150.65 238.70,150.33 239.10,150.36 239.25,150.44 239.40,150.36 239.55,150.40 239.70,150.56 239.85,150.22 240.00,150.44 240.10,150.38 240.15,150.41 240.30,150.23 240.45,150.18 240.60,150.08 240.75,150.06 240.80,149.93 240.90,149.79 241.05,149.26 241.20,146.60 241.35,141.70 241.50,138.70 241.65,141.65 241.80,146.61 241.95,149.35 242.10,150.13 242.20,149.97 242.25,150.18 242.40,150.29 242.55,150.46 242.70,150.43 242.85,150.31 242.90,150.29 243.00,150.59 243.15,150.40 243.30,150.31 243.45,150.71 243.60,150.45 243.75,150.53 243.90,150.55 244.30,150.58 245.00,150.86 245.70,150.75 246.40,150.84 247.10,150.87 247.80,151.09 248.50,150.76 249.20,151.04 249.70,150.86 249.85,150.87 249.90,151.07 250.00,150.97 250.15,150.84 250.30,151.08 250.45,151.23 250.60,151.11 250.75,151.05 250.90,151.19 251.05,151.24 251.20,150.91 251.30,150.97 251.35,151.27 251.50,151.25 251.65,150.90 251.80,150.98 251.95,150.78 252.00,150.57 252.10,150.54 252.25,150.64 252.40,150.80 252.55,150.94 252.70,150.91 252.85,151.20 253.00,150.97 253.15,151.20 253.30,151.10 253.40,151.13 253.45,151.37 253.60,151.12 253.75,151.16 253.90,151.13 254.05,151.06 254.10,151.07 254.20,151.21 254.35,151.34 254.50,151.03 254.80,151.42 255.50,151.33 256.20,151.08 256.90,151.39 257.60,151.27 258.30,151.33 259.00,151.15 259.70,151.33 260.40,151.30 261.10,151.35 261.50,151.20 261.65,151.23 261.80,151.21 261.95,150.94 262.10,150.81 262.25,150.96 262.40,150.74 262.50,150.71 262.55,150.76 262.70,150.77 262.85,150.71 263.00,150.61 263.15,150.59 263.20,150.16 263.30,150.13 263.45,148.67 263.60,144.07 263.75,134.39 263.90,128.42 264.05,134.34 264.20,144.09 264.35,148.87 264.50,150.34 264.60,150.31 264.65,150.38 264.80,150.79 264.95,150.78 265.10,150.66 265.25,151.05 265.30,150.89 265.40,151.20 265.55,151.14 265.70,151.27 265.85,151.37 266.00,151.24 266.15,151.49 266.30,151.11 266.70,151.34 267.40,151.67 268.10,151.37 268.80,151.72 269.50,151.90 270.20,151.80 270.90,151.88 271.60,151.55 272.30,151.77 273.00,151.81 273.70,151.74 274.40,151.74 275.10,151.90 275.80,151.63 276.50,151.57 277.20,151.81 277.90,151.96 278.60,151.87 278.75,151.79 278.90,151.62 279.05,151.87 279.20,151.48 279.30,151.56 279.35,151.80 279.50,151.83 279.65,151.59 279.80,151.80 279.95,151.42 280.00,151.63 280.10,151.37 280.25,151.41 280.40,151.31 280.55,150.92 280.70,149.88 280.85,147.52 281.00,145.97 281.15,147.59 281.30,149.73 281.40,150.89 281.45,151.15 281.60,151.41 281.75,151.71 281.90,151.40 282.05,151.57 282.10,151.59 282.20,151.57 282.35,151.86 282.50,151.70 282.65,151.69 282.80,151.67 282.95,151.68 283.10,151.92 283.25,151.86 283.40,151.81 283.50,151.60 284.20,151.81 284.90,151.62 285.60,151.72 285.90,151.57 286.05,151.87 286.20,151.99 286.30,151.84 286.35,151.81 286.50,151.66 286.65,151.74 286.80,151.74 286.95,151.71 287.00,151.64 287.10,151.61 287.25,151.83 287.40,151.90 287.55,151.82 287.70,151.69 287.85,151.23 288.00,150.56 288.15,149.24 288.30,148.35 288.40,148.63 288.45,149.13 288.60,150.74 288.75,151.34 288.90,151.75 289.05,151.65 289.10,151.87 289.20,151.72 289.35,151.83 289.50,151.80 289.65,151.81 289.80,151.79 289.95,152.02 290.10,151.95 290.25,151.81 290.40,151.86 290.50,152.03 290.55,151.97 290.70,151.94 291.20,152.09 291.90,151.74 292.60,151.97 293.30,151.99 294.00,151.90 294.70,152.11 295.40,152.06 295.55,151.79 295.70,151.87 295.85,151.92 296.00,151.86 296.10,151.70 296.15,151.88 296.30,151.65 296.45,151.53 296.60,151.71 296.75,151.65 296.80,151.53 296.90,151.53 297.05,151.67 297.20,151.44 297.30,150.99 297.35,150.91 297.45,149.57 297.50,148.49 297.60,145.80 297.65,144.32 297.75,142.06 297.80,141.62 297.90,142.88 297.95,144.11 298.05,146.98 298.10,148.44 298.20,149.99 298.25,150.82 298.35,151.01 298.40,151.21 298.50,151.34 298.55,151.12 298.65,151.43 298.70,151.21 298.80,151.10 298.85,151.33 298.90,151.24 298.95,151.46 299.00,151.23 299.10,151.00 299.15,150.88 299.25,150.45 299.30,150.20 299.40,148.61 299.45,147.04 299.55,144.16 299.60,142.89 299.70,141.82 299.75,142.20 299.85,144.46 299.90,145.90 300.00,148.65 300.05,149.51 300.15,150.87 300.20,150.97 300.30,151.32 300.45,151.70 300.60,151.67 300.75,151.81 300.90,151.76 301.00,151.71 301.05,151.83 301.20,151.90 301.35,151.80 301.50,152.10 301.65,152.19 301.70,151.85 301.80,151.90 301.95,152.17 302.10,152.16 302.40,151.98 303.10,152.22 303.80,152.13 304.50,152.44 305.20,152.36 305.90,152.35 306.60,152.23 307.30,152.36 308.00,152.41 308.70,152.37 309.40,152.31 310.10,152.33 310.80,152.56 311.50,152.68 312.20,152.65 312.90,152.56 313.60,152.65 314.30,152.37 315.00,152.41 315.70,152.64 316.40,152.34 317.10,152.38 317.80,152.69 318.50,152.44 319.20,152.43 319.90,152.51 320.00,152.70 320.15,152.33 320.30,152.71 320.45,152.45 320.60,152.56 320.75,152.51 320.90,152.35 321.05,152.70 321.20,152.34 321.30,152.61 321.35,152.64 321.50,152.43 321.65,152.63 321.80,152.18 321.95,152.00 322.00,151.96 322.10,151.11 322.25,149.74 322.40,148.59 322.55,149.74 322.70,151.21 322.85,151.96 323.00,152.56 323.15,152.31 323.30,152.44 323.40,152.32 323.45,152.53 323.60,152.50 323.75,152.40 323.90,152.34 324.05,152.49 324.10,152.69 324.20,152.42 324.35,152.46 324.50,152.64 324.65,152.66 324.80,152.74 325.50,152.69 326.20,152.80 326.90,152.50 327.60,152.84 328.30,152.45 329.00,152.47 329.60,152.44 329.70,152.73 329.75,152.60 329.90,152.78 330.05,152.79 330.20,152.76 330.35,152.60 330.40,152.48 330.50,152.73 330.65,152.61 330.80,152.35 330.95,152.47 331.10,152.20 331.25,152.15 331.40,152.33 331.55,151.97 331.70,150.47 331.80,148.45 331.85,147.09 332.00,145.48 332.15,147.46 332.30,150.40 332.45,151.87 332.50,152.00 332.60,152.09 332.75,152.44 332.90,152.63 333.05,152.30 333.20,152.65 333.35,152.71 333.50,152.49 333.65,152.73 333.80,152.45 333.90,152.52 333.95,152.65 334.10,152.80 334.25,152.66 334.40,152.48 334.60,152.86 335.30,152.74 336.00,152.85 336.70,152.62 337.40,152.67 338.10,152.56 338.60,152.58 338.75,152.69 338.80,152.67 338.90,152.78 339.05,152.85 339.20,152.62 339.35,152.87 339.50,152.73 339.65,152.58 339.80,152.49 339.95,152.81 340.10,152.65 340.20,152.36 340.25,152.63 340.40,152.43 340.55,152.16 340.70,151.21 340.85,148.78 340.90,148.11 341.00,147.59 341.15,149.08 341.30,150.91 341.45,152.35 341.60,152.59 341.75,152.42 341.90,152.67 342.05,152.68 342.20,152.74 342.30,152.68 342.35,152.59 342.50,152.69 342.65,152.59 342.80,152.70 342.95,152.69 343.00,152.56 343.10,152.62 343.25,152.68 343.40,152.71 343.70,152.80 344.40,152.90 345.10,152.70 345.80,152.83 346.50,152.72 347.10,152.66 347.20,152.61 347.25,152.97 347.40,152.95 347.55,152.90 347.70,152.60 347.85,152.58 347.90,152.55 348.00,152.63 348.15,152.67 348.30,152.46 348.45,152.62 348.60,152.72 348.75,152.74 348.90,152.39 349.05,152.02 349.20,151.26 349.30,149.65 349.35,148.84 349.50,147.43 349.65,148.82 349.80,151.03" fill="none" stroke="#B884EC" stroke-width="1.45" stroke-linejoin="round"/>
<path d="M38.50,118.23 39.20,118.68 39.90,118.77 40.60,118.68 41.30,118.91 42.00,119.01 42.70,119.21 43.40,119.38 44.10,119.18 44.80,119.24 45.50,119.68 46.20,119.58 46.90,119.80 47.60,119.53 48.30,119.80 49.00,119.98 49.70,119.82 50.40,120.20 51.10,120.23 51.80,119.90 52.50,119.95 53.20,120.22 53.90,120.45 54.60,120.25 55.30,120.22 56.00,120.35 56.70,120.22 57.40,120.34 58.10,120.48 58.80,120.54 59.50,120.46 60.20,120.49 60.90,120.52 61.60,120.66 62.30,120.61 63.00,120.53 63.70,120.92 64.40,120.83 65.10,120.90 65.80,120.73 66.50,121.12 67.20,121.10 67.90,120.81 68.60,120.94 69.30,121.15 70.00,121.19 70.70,121.32 71.40,121.13 72.10,121.35 72.80,121.31 73.50,121.18 74.20,121.34 74.90,121.49 75.60,121.50 76.30,121.36 77.00,121.42 77.70,121.19 78.40,121.29 79.10,121.55 79.80,121.39 80.50,121.29 81.20,121.46 81.90,121.53 82.60,121.52 83.30,121.39 84.00,121.42 84.70,121.45 85.40,121.56 86.10,121.43 86.80,121.36 87.50,121.37 88.20,121.13 88.90,121.08 89.60,121.28 90.30,121.26 91.00,120.87 91.70,120.42 91.80,120.26 91.95,120.29 92.10,120.37 92.25,120.14 92.40,119.87 92.55,119.83 92.70,119.34 92.85,119.22 93.00,119.13 93.10,118.76 93.15,118.59 93.30,118.11 93.45,117.73 93.60,116.94 93.75,112.40 93.80,109.31 93.90,96.84 94.05,65.46 94.20,46.27 94.35,65.43 94.50,96.72 94.65,112.66 94.80,116.72 94.95,117.54 95.10,118.40 95.20,118.54 95.25,118.50 95.40,118.97 95.55,119.24 95.70,119.43 95.85,119.64 95.90,119.79 96.00,119.95 96.15,120.11 96.30,120.19 96.45,120.14 96.60,120.34 97.30,120.72 98.00,121.15 98.70,121.43 99.40,121.51 100.10,121.58 100.80,121.64 101.50,121.42 102.20,121.69 102.90,121.63 103.60,121.36 104.30,121.32 105.00,121.30 105.60,121.59 105.70,121.37 105.75,121.30 105.90,121.52 106.05,121.38 106.20,121.25 106.35,121.28 106.40,121.43 106.50,121.26 106.65,121.29 106.80,121.47 106.95,121.33 107.10,121.25 107.25,121.29 107.40,121.04 107.55,121.01 107.70,120.29 107.80,119.25 107.85,118.71 108.00,118.17 108.15,118.87 108.30,120.16 108.45,121.06 108.50,121.24 108.60,120.98 108.75,121.01 108.90,121.08 109.05,121.34 109.20,121.10 109.35,121.35 109.50,121.34 109.65,121.28 109.80,121.13 109.90,121.46 109.95,121.38 110.10,121.25 110.25,121.12 110.40,121.30 110.60,121.18 111.30,121.20 112.00,121.02 112.70,121.05 113.40,120.66 114.10,120.56 114.80,120.59 115.50,120.18 116.20,119.39 116.70,119.08 116.85,118.63 116.90,118.83 117.00,118.59 117.15,118.20 117.30,117.84 117.45,117.42 117.60,117.44 117.75,116.66 117.90,116.54 118.05,116.06 118.20,115.24 118.30,114.56 118.35,114.56 118.50,113.04 118.65,106.42 118.80,81.25 118.95,31.74 119.00,16.18 119.10,1.54 119.25,31.82 119.40,81.12 119.55,106.05 119.70,112.47 119.85,114.23 120.00,114.84 120.15,115.52 120.30,115.93 120.40,116.46 120.45,116.60 120.50,116.34 120.60,116.65 120.65,116.81 120.75,117.30 120.80,117.30 120.90,117.28 120.95,117.30 121.05,117.65 121.10,117.79 121.20,117.95 121.25,117.75 121.35,118.09 121.40,118.05 121.50,118.05 121.55,118.31 121.70,118.08 121.80,118.35 121.85,118.09 122.00,118.18 122.15,118.53 122.30,118.15 122.45,117.79 122.50,117.17 122.60,115.24 122.75,109.86 122.90,106.72 123.05,109.94 123.20,115.48 123.35,118.06 123.50,118.94 123.65,119.10 123.80,118.88 123.90,119.13 123.95,118.96 124.10,119.01 124.25,119.08 124.40,119.49 124.55,119.50 124.60,119.53 124.70,119.34 124.85,119.49 125.00,119.60 125.15,119.44 125.30,119.53 126.00,119.35 126.70,119.14 127.40,118.90 128.10,118.51 128.80,117.60 129.50,117.18 130.20,116.56 130.90,116.24 131.60,116.61 132.30,117.02 133.00,117.06 133.70,117.73 134.40,117.85 135.10,118.17 135.80,118.76 136.50,118.60 137.20,118.89 137.90,119.41 138.60,119.37 139.30,119.44 140.00,119.66 140.70,119.86 141.40,120.22 142.10,120.06 142.80,120.52 143.50,120.39 144.20,120.75 144.90,120.81 145.60,120.64 146.30,120.72 147.00,120.92 147.70,120.84 148.40,121.16 149.10,120.97 149.80,121.04 150.50,121.54 151.20,121.31 151.90,121.52 152.60,121.52 153.30,121.53 154.00,121.49 154.70,121.92 155.40,122.00 156.10,122.05 156.80,121.71 157.50,121.79 158.20,121.98 158.90,122.13 159.60,121.89 159.90,121.92 160.05,121.89 160.20,121.68 160.30,121.79 160.35,121.67 160.50,121.61 160.65,121.50 160.80,121.54 160.95,121.79 161.00,121.54 161.10,121.58 161.25,121.50 161.40,121.54 161.55,121.18 161.70,120.90 161.85,119.87 162.00,115.85 162.15,108.14 162.30,103.33 162.40,105.42 162.45,107.93 162.60,115.97 162.75,120.02 162.90,121.07 163.05,121.17 163.10,121.12 163.20,121.31 163.35,121.33 163.50,121.63 163.65,121.50 163.80,121.57 163.95,121.87 164.10,121.77 164.25,122.04 164.40,121.94 164.50,122.13 164.55,121.83 164.70,122.02 165.20,122.23 165.90,121.98 166.60,122.41 167.30,122.09 168.00,122.37 168.70,122.46 169.40,122.39 170.10,122.16 170.80,122.04 171.50,122.18 172.20,122.30 172.50,121.99 172.65,122.23 172.80,121.87 172.90,122.19 172.95,121.79 173.10,121.89 173.25,122.11 173.40,122.02 173.55,122.02 173.60,121.97 173.70,121.90 173.85,121.81 174.00,121.51 174.15,121.52 174.30,121.22 174.45,120.70 174.60,117.75 174.75,111.78 174.90,108.17 175.00,110.26 175.05,112.01 175.20,117.67 175.35,120.59 175.50,121.47 175.65,121.47 175.70,121.47 175.80,121.50 175.90,121.50 175.95,121.42 176.05,121.73 176.10,121.64 176.20,121.73 176.25,121.52 176.35,121.67 176.40,121.58 176.50,121.59 176.55,121.65 176.65,121.91 176.70,121.72 176.80,121.73 176.85,121.82 176.95,121.66 177.00,121.56 177.10,121.78 177.15,121.76 177.25,121.82 177.30,121.72 177.40,121.81 177.55,121.79 177.70,121.47 177.80,121.37 177.85,121.12 178.00,119.21 178.15,115.73 178.30,113.63 178.45,115.96 178.50,117.25 178.60,119.27 178.75,121.25 178.90,121.46 179.05,121.59 179.20,121.85 179.35,122.06 179.50,121.78 179.65,122.08 179.80,122.17 179.90,121.93 179.95,122.11 180.10,122.20 180.25,122.01 180.40,122.17 180.55,122.21 180.60,122.15 180.70,122.27 181.30,122.33 182.00,122.38 182.70,122.21 183.40,122.02 184.10,122.02 184.80,121.95 185.30,122.04 185.45,122.09 185.50,121.77 185.60,122.03 185.75,122.01 185.90,121.80 186.05,121.83 186.20,121.62 186.35,121.81 186.50,121.43 186.65,121.76 186.80,121.58 186.90,121.41 186.95,121.21 187.10,121.22 187.25,120.10 187.40,115.29 187.55,106.80 187.60,104.08 187.70,101.42 187.85,106.78 188.00,115.46 188.15,120.12 188.30,121.30 188.45,121.32 188.60,121.65 188.75,121.61 188.90,121.59 189.00,121.72 189.05,121.66 189.20,122.08 189.35,122.16 189.50,121.85 189.65,122.12 189.70,122.05 189.80,121.95 189.95,122.08 190.10,122.09 190.40,122.38 191.10,122.18 191.80,122.35 192.50,122.52 193.20,122.39 193.90,122.69 194.60,122.72 195.30,122.84 196.00,122.58 196.70,122.63 197.40,122.76 198.10,122.65 198.80,122.78 199.50,122.61 200.20,122.76 200.35,122.79 200.50,122.79 200.65,122.84 200.80,122.63 200.90,122.59 200.95,122.74 201.10,122.67 201.25,122.55 201.40,122.42 201.55,122.33 201.60,122.24 201.70,122.50 201.85,122.12 202.00,122.25 202.15,121.51 202.30,119.17 202.45,114.09 202.60,111.15 202.75,113.83 202.90,118.98 203.00,121.00 203.05,121.43 203.20,122.17 203.35,122.26 203.50,122.42 203.65,122.26 203.70,122.47 203.80,122.51 203.95,122.49 204.10,122.58 204.25,122.78 204.40,122.77 204.55,122.71 204.70,122.81 204.85,122.71 205.00,122.66 205.10,122.58 205.80,122.77 206.50,122.96 207.20,123.11 207.90,123.10 208.60,122.98 209.30,123.19 210.00,122.96 210.70,123.12 211.40,122.92 212.10,123.05 212.80,123.14 213.50,122.81 214.20,122.72 214.90,122.87 215.60,122.77 216.30,122.61 217.00,122.33 217.70,122.32 218.40,122.05 218.60,121.94 218.75,122.04 218.90,121.82 219.05,121.77 219.10,121.80 219.20,121.64 219.35,121.39 219.50,121.33 219.65,121.09 219.80,120.88 219.95,120.62 220.10,120.22 220.25,119.95 220.40,119.27 220.50,118.11 220.55,116.69 220.70,106.68 220.85,86.91 221.00,74.86 221.15,86.56 221.20,93.37 221.30,105.75 221.45,114.64 221.60,112.43 221.75,103.33 221.90,97.65 222.05,104.02 222.20,113.64 222.35,118.65 222.50,119.88 222.60,120.40 222.65,120.61 222.80,120.74 222.95,120.94 223.10,121.26 223.25,121.15 223.30,121.41 223.40,121.70 223.55,121.72 223.70,121.70 223.85,121.93 224.00,121.99 224.15,121.89 224.30,121.97 224.70,122.42 225.40,122.35 226.10,122.40 226.80,122.84 227.50,122.79 228.20,122.79 228.90,122.92 229.60,123.07 230.30,122.88 231.00,123.14 231.70,123.22 232.40,123.31 233.10,123.11 233.80,123.29 234.50,123.15 235.20,123.32 235.90,123.16 236.60,123.44 237.30,123.48 238.00,123.23 238.70,123.15 239.10,123.44 239.25,123.31 239.40,123.35 239.55,122.97 239.70,123.32 239.85,123.17 240.00,123.00 240.10,123.02 240.15,123.15 240.30,123.12 240.45,122.80 240.60,122.92 240.75,122.63 240.80,122.94 240.90,122.57 241.05,122.03 241.20,119.05 241.35,113.26 241.50,109.62 241.65,113.23 241.80,118.79 241.95,121.69 242.10,122.70 242.20,122.68 242.25,122.89 242.40,122.76 242.55,123.03 242.70,123.09 242.85,122.95 242.90,122.87 243.00,123.01 243.15,123.00 243.30,122.48 243.45,121.78 243.60,121.29 243.75,122.02 243.90,122.94 244.05,123.06 244.20,123.10 244.30,123.42 244.35,123.48 244.50,123.58 244.65,123.45 244.80,123.35 244.95,123.59 245.00,123.28 245.10,123.55 245.25,123.30 245.40,123.45 245.55,123.51 245.70,123.47 245.85,123.39 246.00,123.43 246.40,123.72 247.10,123.60 247.80,123.69 248.50,123.55 249.20,123.80 249.90,123.65 250.60,123.79 251.30,123.95 252.00,124.01 252.70,123.61 253.40,123.95 254.10,123.99 254.80,123.77 255.50,123.80 256.00,123.89 256.15,124.04 256.20,123.81 256.30,124.02 256.45,123.97 256.60,123.70 256.75,124.04 256.90,123.64 257.05,123.69 257.20,123.92 257.35,123.64 257.50,123.78 257.60,123.67 257.65,123.81 257.80,123.96 257.95,123.91 258.10,123.23 258.25,122.66 258.30,122.82 258.40,122.30 258.55,122.75 258.70,123.27 258.85,123.55 259.00,123.60 259.15,123.88 259.30,123.94 259.45,123.92 259.60,123.99 259.70,123.91 259.75,123.79 259.90,123.90 260.05,124.04 260.20,123.90 260.35,123.72 260.40,123.63 260.50,124.02 260.65,123.86 260.80,123.74 261.10,123.83 261.60,123.75 261.75,123.71 261.80,123.50 261.90,123.61 262.05,123.60 262.20,123.47 262.35,123.73 262.50,123.48 262.65,123.53 262.80,123.48 262.95,123.42 263.10,123.31 263.20,123.25 263.25,122.98 263.40,123.06 263.55,121.67 263.70,118.02 263.85,110.12 263.90,107.65 264.00,104.98 264.15,109.79 264.30,117.99 264.45,121.83 264.60,122.83 264.75,123.35 264.90,123.06 265.05,123.38 265.20,123.43 265.30,123.34 265.35,123.48 265.50,123.69 265.65,123.82 265.80,123.49 265.95,123.76 266.00,123.58 266.10,123.92 266.25,123.64 266.40,123.65 266.70,123.87 267.40,124.12 268.10,124.00 268.80,123.98 269.50,124.31 270.20,124.35 270.90,124.41 271.60,124.20 272.30,124.28 273.00,124.24 273.70,124.41 274.40,124.34 275.10,124.37 275.80,124.60 276.50,124.70 277.20,124.57 277.90,124.38 278.60,124.63 278.75,124.54 278.90,124.78 279.05,124.66 279.20,124.71 279.30,124.65 279.35,124.58 279.50,124.73 279.65,124.70 279.80,124.46 279.95,124.39 280.00,124.48 280.10,124.54 280.25,124.34 280.40,124.41 280.55,124.35 280.70,123.48 280.85,122.56 281.00,121.73 281.15,122.35 281.30,123.61 281.40,124.14 281.45,124.27 281.60,124.62 281.75,124.56 281.90,124.59 282.05,124.44 282.10,124.79 282.20,124.54 282.35,124.55 282.50,124.45 282.65,124.86 282.80,124.65 282.95,124.85 283.10,124.87 283.25,124.89 283.40,124.83 283.50,124.88 284.20,124.90 284.90,124.85 285.60,124.55 285.90,124.71 286.05,124.73 286.20,124.91 286.30,124.81 286.35,124.78 286.50,124.79 286.65,124.61 286.80,124.86 286.95,124.72 287.00,124.61 287.10,124.63 287.25,124.85 287.40,124.64 287.55,124.46 287.70,124.42 287.85,124.51 288.00,123.91 288.15,122.98 288.30,122.00 288.40,122.42 288.45,122.90 288.60,123.68 288.75,124.25 288.90,124.59 289.05,124.49 289.10,124.43 289.20,124.51 289.35,124.68 289.50,124.65 289.65,124.46 289.80,124.46 289.95,124.81 290.10,124.72 290.25,124.52 290.40,124.83 290.50,124.46 290.55,124.61 290.70,124.82 291.20,124.77 291.90,124.57 292.60,124.82 293.30,124.67 294.00,124.74 294.70,124.68 295.20,124.40 295.35,124.48 295.40,124.41 295.50,124.57 295.65,124.47 295.80,124.39 295.95,124.39 296.10,124.42 296.25,124.03 296.40,123.94 296.55,124.10 296.70,124.02 296.80,123.83 296.85,123.78 297.00,123.52 297.15,122.87 297.30,119.52 297.45,112.93 297.50,110.64 297.60,109.07 297.65,109.39 297.75,112.71 297.80,115.05 297.90,119.38 297.95,120.58 298.05,122.39 298.10,122.90 298.20,123.54 298.25,123.56 298.35,123.74 298.40,123.58 298.50,123.62 298.55,123.63 298.65,123.63 298.70,123.64 298.80,123.77 298.85,123.82 298.90,123.58 298.95,123.67 299.00,123.52 299.10,123.48 299.15,123.55 299.25,123.51 299.30,123.42 299.40,123.23 299.45,122.47 299.55,120.98 299.60,119.71 299.70,115.60 299.75,113.31 299.85,109.93 299.90,109.47 300.00,111.55 300.05,113.50 300.20,119.66 300.30,122.25 300.35,122.95 300.50,123.75 300.65,123.76 300.80,123.91 300.95,124.14 301.00,123.99 301.10,124.20 301.25,124.15 301.40,124.14 301.55,124.25 301.70,124.14 301.85,124.29 302.00,124.35 302.15,124.20 302.30,124.30 302.40,124.36 303.10,124.71 303.80,124.65 304.50,124.56 305.20,124.90 305.90,124.60 306.60,124.72 307.30,124.83 308.00,124.82 308.70,124.72 309.40,124.87 310.10,124.75 310.80,124.85 311.50,124.76 312.20,124.97 312.90,124.86 313.60,124.59 314.30,124.60 315.00,124.97 315.70,124.65 316.40,124.56 317.10,124.66 317.80,124.75 318.50,124.96 319.20,124.71 319.90,124.84 320.10,124.88 320.25,124.55 320.40,124.78 320.55,124.94 320.60,124.75 320.70,124.73 320.85,124.65 321.00,124.90 321.15,124.91 321.30,124.52 321.45,124.70 321.60,124.63 321.75,124.73 321.90,124.45 322.00,124.45 322.05,124.39 322.20,123.97 322.35,123.11 322.50,122.53 322.65,123.11 322.70,123.42 322.80,123.80 322.95,124.44 323.10,124.69 323.25,124.56 323.40,124.67 323.55,124.86 323.70,124.52 323.85,124.85 324.00,124.53 324.10,124.66 324.15,124.89 324.30,124.59 324.45,124.73 324.60,124.69 324.75,124.90 324.80,124.95 324.90,124.64 325.50,124.74 326.20,124.93 326.90,124.77 327.60,124.62 328.30,124.85 329.00,124.65 329.30,124.70 329.45,124.48 329.60,124.90 329.70,124.75 329.75,124.86 329.90,124.87 330.05,124.55 330.20,124.65 330.35,124.59 330.40,124.72 330.50,124.75 330.65,124.45 330.80,124.44 330.95,124.59 331.10,124.39 331.25,123.94 331.40,122.72 331.55,120.41 331.70,118.93 331.80,119.81 331.85,120.40 332.00,122.90 332.15,123.95 332.30,124.39 332.45,124.41 332.50,124.61 332.60,124.45 332.75,124.46 332.90,124.55 333.05,124.62 333.20,124.58 333.35,124.72 333.50,124.55 333.65,124.87 333.80,124.80 333.90,124.74 333.95,124.53 334.10,124.66 334.60,124.84 335.30,124.85 336.00,124.94 336.70,124.99 337.40,124.74 338.10,124.82 338.60,124.74 338.75,124.65 338.80,124.66 338.90,124.71 339.05,124.63 339.20,124.83 339.35,124.89 339.50,124.83 339.65,124.88 339.80,124.67 339.95,124.65 340.10,124.80 340.20,124.93 340.25,124.72 340.40,124.51 340.55,124.39 340.70,124.03 340.85,123.21 340.90,122.67 341.00,122.45 341.15,123.24 341.30,124.34 341.45,124.54 341.60,124.78 341.75,124.78 341.90,124.58 342.05,124.72 342.20,124.65 342.30,124.71 342.35,124.94 342.50,124.91 342.65,124.63 342.80,124.66 342.95,124.95 343.00,124.68 343.10,124.77 343.25,124.76 343.40,124.67 343.70,124.66 344.40,124.72 345.10,124.85 345.80,125.08 346.50,124.95 347.20,124.75 347.35,124.94 347.50,124.75 347.65,124.85 347.80,124.76 347.90,125.03 347.95,124.76 348.10,124.95 348.25,124.86 348.40,124.93 348.55,124.81 348.60,124.92 348.70,124.69 348.85,124.78 349.00,124.69 349.15,124.37 349.30,123.29 349.45,121.12 349.60,119.74 349.75,121.28 349.80,121.93" fill="none" stroke="#E0A826" stroke-width="1.45" stroke-linejoin="round"/>
<text x="7.50" y="115.10" font-size="10.50" text-anchor="start" font-weight="bold" class="b">AAS20</text>
<text x="7.00" y="143.40" font-size="10.50" text-anchor="start" font-weight="bold" class="b">AAS15</text>
<text x="8.40" y="171.10" font-size="10.50" text-anchor="start" font-weight="bold" class="b">AAS0</text>
<text x="6.15" y="224.20" font-size="10.90" text-anchor="start" font-weight="bold" class="b">OPC20</text>
<text x="5.95" y="257.30" font-size="10.90" text-anchor="start" font-weight="bold" class="b">OPC15</text>
<text x="7.65" y="283.10" font-size="10.90" text-anchor="start" font-weight="bold" class="b">OPC0</text>
<text x="93.80" y="42.90" font-size="10.60" text-anchor="middle" font-weight="normal">Q</text>
<text x="125.50" y="9.20" font-size="10.60" text-anchor="middle" font-weight="normal">Q</text>
<text x="123.50" y="106.80" font-size="10.60" text-anchor="middle" font-weight="normal">G</text>
<text x="161.90" y="102.10" font-size="10.60" text-anchor="middle" font-weight="normal">Q</text>
<text x="174.00" y="106.80" font-size="10.60" text-anchor="middle" font-weight="normal">Q</text>
<text x="180.40" y="113.00" font-size="10.60" text-anchor="middle" font-weight="normal">Q</text>
<text x="187.50" y="100.10" font-size="10.60" text-anchor="middle" font-weight="normal">Q</text>
<text x="202.00" y="109.10" font-size="10.60" text-anchor="middle" font-weight="normal">Q</text>
<text x="220.40" y="73.50" font-size="10.60" text-anchor="middle" font-weight="normal">Q</text>
<text x="241.60" y="107.30" font-size="10.60" text-anchor="middle" font-weight="normal">Q</text>
<text x="263.60" y="103.70" font-size="10.60" text-anchor="middle" font-weight="normal">Q</text>
<text x="298.40" y="107.40" font-size="10.60" text-anchor="middle" font-weight="normal">Q</text>
<text x="331.90" y="117.80" font-size="10.60" text-anchor="middle" font-weight="normal">Q</text>
<text x="123.50" y="142.10" font-size="10.60" text-anchor="middle" font-weight="normal">G</text>
<text x="82.90" y="214.30" font-size="10.60" text-anchor="middle" font-weight="normal">P</text>
<text x="99.50" y="189.00" font-size="10.60" text-anchor="middle" font-weight="normal">Q</text>
<text x="125.20" y="186.50" font-size="10.60" text-anchor="middle" font-weight="normal">Q</text>
<text x="129.60" y="225.50" font-size="10.60" text-anchor="middle" font-weight="normal">C</text>
<text x="144.10" y="227.20" font-size="10.60" text-anchor="middle" font-weight="normal">C</text>
<text x="151.80" y="217.60" font-size="10.60" text-anchor="middle" font-weight="normal">P</text>
<text x="162.50" y="214.00" font-size="10.60" text-anchor="middle" font-weight="normal">Q</text>
<text x="171.80" y="220.40" font-size="10.60" text-anchor="middle" font-weight="normal">Q</text>
<text x="179.30" y="220.40" font-size="10.60" text-anchor="middle" font-weight="normal">Q</text>
<text x="187.80" y="219.90" font-size="10.60" text-anchor="middle" font-weight="normal">Q</text>
<text x="201.90" y="219.80" font-size="10.60" text-anchor="middle" font-weight="normal">Q</text>
<text x="208.80" y="228.00" font-size="10.60" text-anchor="middle" font-weight="normal">P</text>
<text x="221.10" y="197.10" font-size="10.60" text-anchor="middle" font-weight="normal">Q</text>
<text x="225.50" y="228.40" font-size="10.60" text-anchor="middle" font-weight="normal">P</text>
<text x="241.60" y="216.90" font-size="10.60" text-anchor="middle" font-weight="normal">Q</text>
<text x="263.20" y="212.80" font-size="10.60" text-anchor="middle" font-weight="normal">Q</text>
<text x="298.70" y="204.70" font-size="10.60" text-anchor="middle" font-weight="normal">Q</text>
<text x="294.50" y="221.70" font-size="10.60" text-anchor="middle" font-weight="normal">Q</text>
<text x="330.90" y="226.00" font-size="10.60" text-anchor="middle" font-weight="normal">Q</text>
<text x="127.40" y="115.40" font-size="10.60" text-anchor="start" font-weight="normal">Cs</text>
<path d="M3.9,302.50 H350.3" stroke="#222" stroke-width="1.45" fill="none"/>
<path d="M3.90,301.80 V306.90 M7.84,301.80 V305.00 M11.77,301.80 V305.00 M15.71,301.80 V305.00 M19.65,301.80 V305.00 M23.58,301.80 V305.00 M27.52,301.80 V305.00 M31.45,301.80 V305.00 M35.39,301.80 V305.00 M39.33,301.80 V305.00 M43.26,301.80 V305.00 M47.20,301.80 V306.90 M51.14,301.80 V305.00 M55.07,301.80 V305.00 M59.01,301.80 V305.00 M62.95,301.80 V305.00 M66.88,301.80 V305.00 M70.82,301.80 V305.00 M74.75,301.80 V305.00 M78.69,301.80 V305.00 M82.63,301.80 V305.00 M86.56,301.80 V305.00 M90.50,301.80 V306.90 M94.44,301.80 V305.00 M98.37,301.80 V305.00 M102.31,301.80 V305.00 M106.25,301.80 V305.00 M110.18,301.80 V305.00 M114.12,301.80 V305.00 M118.05,301.80 V305.00 M121.99,301.80 V305.00 M125.93,301.80 V305.00 M129.86,301.80 V305.00 M133.80,301.80 V306.90 M137.74,301.80 V305.00 M141.67,301.80 V305.00 M145.61,301.80 V305.00 M149.55,301.80 V305.00 M153.48,301.80 V305.00 M157.42,301.80 V305.00 M161.35,301.80 V305.00 M165.29,301.80 V305.00 M169.23,301.80 V305.00 M173.16,301.80 V305.00 M177.10,301.80 V306.90 M181.04,301.80 V305.00 M184.97,301.80 V305.00 M188.91,301.80 V305.00 M192.85,301.80 V305.00 M196.78,301.80 V305.00 M200.72,301.80 V305.00 M204.65,301.80 V305.00 M208.59,301.80 V305.00 M212.53,301.80 V305.00 M216.46,301.80 V305.00 M220.40,301.80 V306.90 M224.34,301.80 V305.00 M228.27,301.80 V305.00 M232.21,301.80 V305.00 M236.15,301.80 V305.00 M240.08,301.80 V305.00 M244.02,301.80 V305.00 M247.95,301.80 V305.00 M251.89,301.80 V305.00 M255.83,301.80 V305.00 M259.76,301.80 V305.00 M263.70,301.80 V306.90 M267.64,301.80 V305.00 M271.57,301.80 V305.00 M275.51,301.80 V305.00 M279.45,301.80 V305.00 M283.38,301.80 V305.00 M287.32,301.80 V305.00 M291.25,301.80 V305.00 M295.19,301.80 V305.00 M299.13,301.80 V305.00 M303.06,301.80 V305.00 M307.00,301.80 V306.90 M310.94,301.80 V305.00 M314.87,301.80 V305.00 M318.81,301.80 V305.00 M322.75,301.80 V305.00 M326.68,301.80 V305.00 M330.62,301.80 V305.00 M334.55,301.80 V305.00 M338.49,301.80 V305.00 M342.43,301.80 V305.00 M346.36,301.80 V305.00 M350.30,301.80 V306.90" stroke="#222" stroke-width="1.2" fill="none"/>
<text x="3.90" y="318.85" font-size="10.70" text-anchor="middle" font-weight="bold" class="b">0</text>
<text x="47.20" y="318.85" font-size="10.70" text-anchor="middle" font-weight="bold" class="b">10</text>
<text x="90.50" y="318.85" font-size="10.70" text-anchor="middle" font-weight="bold" class="b">20</text>
<text x="133.80" y="318.85" font-size="10.70" text-anchor="middle" font-weight="bold" class="b">30</text>
<text x="177.10" y="318.85" font-size="10.70" text-anchor="middle" font-weight="bold" class="b">40</text>
<text x="220.40" y="318.85" font-size="10.70" text-anchor="middle" font-weight="bold" class="b">50</text>
<text x="263.70" y="318.85" font-size="10.70" text-anchor="middle" font-weight="bold" class="b">60</text>
<text x="307.00" y="318.85" font-size="10.70" text-anchor="middle" font-weight="bold" class="b">70</text>
<text x="350.30" y="318.85" font-size="10.70" text-anchor="middle" font-weight="bold" class="b">80</text>
<text x="130.40" y="339.45" font-size="13.35" text-anchor="start" font-weight="bold" class="b">2-Theta (degree)</text>
<rect x="287.1" y="2.4" width="62.3" height="61.7" fill="#fff" stroke="#999" stroke-width="1"/>
<text x="288.60" y="12.90" font-size="9.45" text-anchor="start" font-weight="bold" class="b">Q-Quartz</text>
<text x="288.60" y="24.90" font-size="9.45" text-anchor="start" font-weight="bold" class="b">C-(C-S-H)</text>
<text x="288.60" y="36.80" font-size="9.45" text-anchor="start" font-weight="bold" class="b">Cs-(C-A-S-H)</text>
<text x="288.60" y="49.60" font-size="9.45" text-anchor="start" font-weight="bold" class="b">G-Gismondine</text>
<text x="288.60" y="60.90" font-size="9.45" text-anchor="start" font-weight="bold" class="b">P-Portlandite</text>
</svg>
</body></html>
